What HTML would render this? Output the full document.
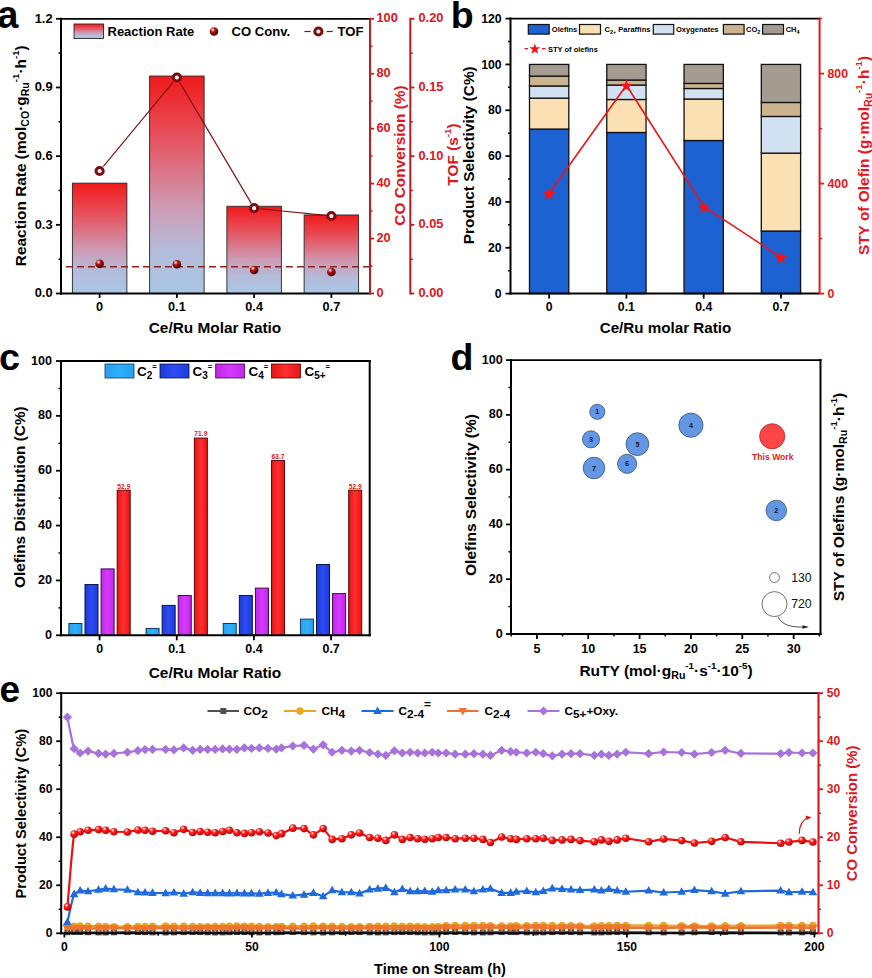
<!DOCTYPE html>
<html lang="en"><head><meta charset="utf-8"><title>Figure</title>
<style>
html,body{margin:0;padding:0;background:#fff;}
svg{display:block;font-family:"Liberation Sans",Arial,Helvetica,sans-serif;}
</style></head><body>
<svg width="872" height="978" viewBox="0 0 872 978">
<rect x="0" y="0" width="872" height="978" fill="#fff"/>
<defs>
<linearGradient id="gA" x1="0" y1="0" x2="0" y2="1"><stop offset="0" stop-color="#F01A1A"/><stop offset="0.25" stop-color="#E84A55"/><stop offset="0.6" stop-color="#CE9AB2"/><stop offset="0.8" stop-color="#B4BCDA"/><stop offset="1" stop-color="#A9C6E4"/></linearGradient>
<radialGradient id="ball" cx="0.36" cy="0.3" r="0.72"><stop offset="0" stop-color="#FFFFFF"/><stop offset="0.16" stop-color="#F09088"/><stop offset="0.36" stop-color="#B41616"/><stop offset="0.72" stop-color="#780505"/><stop offset="1" stop-color="#2C0000"/></radialGradient>
<radialGradient id="rball" cx="0.36" cy="0.3" r="0.74"><stop offset="0" stop-color="#FFFFFF"/><stop offset="0.14" stop-color="#FFA8A0"/><stop offset="0.34" stop-color="#F92222"/><stop offset="0.75" stop-color="#E00A0A"/><stop offset="1" stop-color="#9A0000"/></radialGradient>
<linearGradient id="gC2" x1="0" y1="0" x2="1" y2="0"><stop offset="0" stop-color="#27A0F0"/><stop offset="0.5" stop-color="#30B0FA"/><stop offset="1" stop-color="#27A0F0"/></linearGradient>
<linearGradient id="gC3" x1="0" y1="0" x2="1" y2="0"><stop offset="0" stop-color="#1E3AD8"/><stop offset="0.5" stop-color="#2C4CF4"/><stop offset="1" stop-color="#1E3AD8"/></linearGradient>
<linearGradient id="gC4" x1="0" y1="0" x2="1" y2="0"><stop offset="0" stop-color="#C028E8"/><stop offset="0.5" stop-color="#D838FF"/><stop offset="1" stop-color="#C028E8"/></linearGradient>
<linearGradient id="gC5" x1="0" y1="0" x2="1" y2="0"><stop offset="0" stop-color="#E81414"/><stop offset="0.5" stop-color="#FF3030"/><stop offset="1" stop-color="#E81414"/></linearGradient>
</defs>
<text x="-2.8" y="27.6" font-size="38" fill="#000" text-anchor="start" font-weight="bold" >a</text>
<rect x="72.38" y="183.16" width="54.5" height="110.34" fill="url(#gA)" stroke="#262626" stroke-width="0.9"/>
<rect x="149.62" y="76.03" width="54.5" height="217.47" fill="url(#gA)" stroke="#262626" stroke-width="0.9"/>
<rect x="226.88" y="206.28" width="54.5" height="87.22" fill="url(#gA)" stroke="#262626" stroke-width="0.9"/>
<rect x="304.12" y="214.98" width="54.5" height="78.52" fill="url(#gA)" stroke="#262626" stroke-width="0.9"/>
<line x1="66" y1="266.7" x2="370" y2="266.7" stroke="#8A2222" stroke-width="1.5" stroke-dasharray="7 4"/>
<line x1="103.19" y1="166.68" x2="173.31" y2="81.82" stroke="#8A1212" stroke-width="1.2" />
<line x1="179.72" y1="82.32" x2="251.28" y2="203.38" stroke="#8A1212" stroke-width="1.2" />
<line x1="259.7" y1="208.76" x2="325.8" y2="215.44" stroke="#8A1212" stroke-width="1.2" />
<circle cx="99.62" cy="171" r="3.6" fill="#fff" stroke="#7E0C0C" stroke-width="3"/>
<circle cx="176.88" cy="77.5" r="3.6" fill="#fff" stroke="#7E0C0C" stroke-width="3"/>
<circle cx="254.12" cy="208.2" r="3.6" fill="#fff" stroke="#7E0C0C" stroke-width="3"/>
<circle cx="331.38" cy="216" r="3.6" fill="#fff" stroke="#7E0C0C" stroke-width="3"/>
<circle cx="99.62" cy="263.8" r="4.3" fill="url(#ball)"/>
<circle cx="176.88" cy="264.3" r="4.3" fill="url(#ball)"/>
<circle cx="254.12" cy="270" r="4.3" fill="url(#ball)"/>
<circle cx="331.38" cy="272" r="4.3" fill="url(#ball)"/>
<line x1="61" y1="17.8" x2="61" y2="294.5" stroke="#000" stroke-width="2" />
<line x1="60" y1="293.5" x2="370" y2="293.5" stroke="#000" stroke-width="2" />
<line x1="60" y1="18.8" x2="370" y2="18.8" stroke="#000" stroke-width="1.8" />
<line x1="56" y1="293.5" x2="61" y2="293.5" stroke="#000" stroke-width="1.8" />
<text x="52.6" y="297.3" font-size="12.9" fill="#000" text-anchor="end" font-weight="bold" >0.0</text>
<line x1="58.5" y1="259.16" x2="61" y2="259.16" stroke="#000" stroke-width="1.5" />
<line x1="56" y1="224.82" x2="61" y2="224.82" stroke="#000" stroke-width="1.8" />
<text x="52.6" y="228.62" font-size="12.9" fill="#000" text-anchor="end" font-weight="bold" >0.3</text>
<line x1="58.5" y1="190.49" x2="61" y2="190.49" stroke="#000" stroke-width="1.5" />
<line x1="56" y1="156.15" x2="61" y2="156.15" stroke="#000" stroke-width="1.8" />
<text x="52.6" y="159.95" font-size="12.9" fill="#000" text-anchor="end" font-weight="bold" >0.6</text>
<line x1="58.5" y1="121.81" x2="61" y2="121.81" stroke="#000" stroke-width="1.5" />
<line x1="56" y1="87.48" x2="61" y2="87.48" stroke="#000" stroke-width="1.8" />
<text x="52.6" y="91.28" font-size="12.9" fill="#000" text-anchor="end" font-weight="bold" >0.9</text>
<line x1="58.5" y1="53.14" x2="61" y2="53.14" stroke="#000" stroke-width="1.5" />
<line x1="56" y1="18.8" x2="61" y2="18.8" stroke="#000" stroke-width="1.8" />
<text x="52.6" y="22.6" font-size="12.9" fill="#000" text-anchor="end" font-weight="bold" >1.2</text>
<line x1="99.62" y1="293.5" x2="99.62" y2="298" stroke="#000" stroke-width="1.8" />
<text x="99.62" y="310.7" font-size="12.7" fill="#000" text-anchor="middle" font-weight="bold" >0</text>
<line x1="176.88" y1="293.5" x2="176.88" y2="298" stroke="#000" stroke-width="1.8" />
<text x="176.88" y="310.7" font-size="12.7" fill="#000" text-anchor="middle" font-weight="bold" >0.1</text>
<line x1="254.12" y1="293.5" x2="254.12" y2="298" stroke="#000" stroke-width="1.8" />
<text x="254.12" y="310.7" font-size="12.7" fill="#000" text-anchor="middle" font-weight="bold" >0.4</text>
<line x1="331.38" y1="293.5" x2="331.38" y2="298" stroke="#000" stroke-width="1.8" />
<text x="331.38" y="310.7" font-size="12.7" fill="#000" text-anchor="middle" font-weight="bold" >0.7</text>
<text x="215" y="333" font-size="15.4" fill="#000" text-anchor="middle" font-weight="bold" >Ce/Ru Molar Ratio</text>
<text x="26" y="155.7" font-size="15.4" fill="#000" text-anchor="middle" font-weight="bold" transform="rotate(-90 26 155.7)" >Reaction Rate (mol<tspan font-size="10.6" dy="3.4">CO</tspan><tspan font-size="1" dy="-3.4">​</tspan>·g<tspan font-size="10.6" dy="3.4">Ru</tspan><tspan font-size="1" dy="-3.4">​</tspan><tspan font-size="9.7" dy="-7">-1</tspan><tspan font-size="1" dy="7">​</tspan>·h<tspan font-size="9.7" dy="-7">-1</tspan><tspan font-size="1" dy="7">​</tspan>)</text>
<line x1="370" y1="17.8" x2="370" y2="294.5" stroke="#C4191F" stroke-width="2" />
<line x1="370" y1="293.5" x2="374" y2="293.5" stroke="#C4191F" stroke-width="1.8" />
<text x="376.5" y="297" font-size="12.8" fill="#DE1620" text-anchor="start" font-weight="bold" >0</text>
<line x1="370" y1="266.03" x2="372.5" y2="266.03" stroke="#C4191F" stroke-width="1.5" />
<line x1="370" y1="238.56" x2="374" y2="238.56" stroke="#C4191F" stroke-width="1.8" />
<text x="376.5" y="242.06" font-size="12.8" fill="#DE1620" text-anchor="start" font-weight="bold" >20</text>
<line x1="370" y1="211.09" x2="372.5" y2="211.09" stroke="#C4191F" stroke-width="1.5" />
<line x1="370" y1="183.62" x2="374" y2="183.62" stroke="#C4191F" stroke-width="1.8" />
<text x="376.5" y="187.12" font-size="12.8" fill="#DE1620" text-anchor="start" font-weight="bold" >40</text>
<line x1="370" y1="156.15" x2="372.5" y2="156.15" stroke="#C4191F" stroke-width="1.5" />
<line x1="370" y1="128.68" x2="374" y2="128.68" stroke="#C4191F" stroke-width="1.8" />
<text x="376.5" y="132.18" font-size="12.8" fill="#DE1620" text-anchor="start" font-weight="bold" >60</text>
<line x1="370" y1="101.21" x2="372.5" y2="101.21" stroke="#C4191F" stroke-width="1.5" />
<line x1="370" y1="73.74" x2="374" y2="73.74" stroke="#C4191F" stroke-width="1.8" />
<text x="376.5" y="77.24" font-size="12.8" fill="#DE1620" text-anchor="start" font-weight="bold" >80</text>
<line x1="370" y1="46.27" x2="372.5" y2="46.27" stroke="#C4191F" stroke-width="1.5" />
<line x1="370" y1="18.8" x2="374" y2="18.8" stroke="#C4191F" stroke-width="1.8" />
<text x="376.5" y="22.3" font-size="12.8" fill="#DE1620" text-anchor="start" font-weight="bold" >100</text>
<text x="404.5" y="155.5" font-size="15.4" fill="#DE1620" text-anchor="middle" font-weight="bold" transform="rotate(-90 404.5 155.5)" >CO Conversion (%)</text>
<line x1="410.3" y1="17.8" x2="410.3" y2="294.5" stroke="#C4191F" stroke-width="2" />
<line x1="410.3" y1="293.5" x2="414.3" y2="293.5" stroke="#C4191F" stroke-width="1.8" />
<text x="418.5" y="297" font-size="12.8" fill="#DE1620" text-anchor="start" font-weight="bold" >0.00</text>
<line x1="410.3" y1="259.16" x2="412.8" y2="259.16" stroke="#C4191F" stroke-width="1.5" />
<line x1="410.3" y1="224.82" x2="414.3" y2="224.82" stroke="#C4191F" stroke-width="1.8" />
<text x="418.5" y="228.32" font-size="12.8" fill="#DE1620" text-anchor="start" font-weight="bold" >0.05</text>
<line x1="410.3" y1="190.49" x2="412.8" y2="190.49" stroke="#C4191F" stroke-width="1.5" />
<line x1="410.3" y1="156.15" x2="414.3" y2="156.15" stroke="#C4191F" stroke-width="1.8" />
<text x="418.5" y="159.65" font-size="12.8" fill="#DE1620" text-anchor="start" font-weight="bold" >0.10</text>
<line x1="410.3" y1="121.81" x2="412.8" y2="121.81" stroke="#C4191F" stroke-width="1.5" />
<line x1="410.3" y1="87.48" x2="414.3" y2="87.48" stroke="#C4191F" stroke-width="1.8" />
<text x="418.5" y="90.98" font-size="12.8" fill="#DE1620" text-anchor="start" font-weight="bold" >0.15</text>
<line x1="410.3" y1="53.14" x2="412.8" y2="53.14" stroke="#C4191F" stroke-width="1.5" />
<line x1="410.3" y1="18.8" x2="414.3" y2="18.8" stroke="#C4191F" stroke-width="1.8" />
<text x="418.5" y="22.3" font-size="12.8" fill="#DE1620" text-anchor="start" font-weight="bold" >0.20</text>
<text x="458" y="154.5" font-size="15.4" fill="#DE1620" text-anchor="middle" font-weight="bold" transform="rotate(-90 458 154.5)" >TOF (s<tspan font-size="9.7" dy="-7">-1</tspan><tspan font-size="1" dy="7">​</tspan>)</text>
<rect x="74" y="24" width="29.5" height="14.5" fill="url(#gA)" stroke="#262626" stroke-width="0.9"/>
<text x="107.5" y="36" font-size="13" fill="#000" text-anchor="start" font-weight="bold" >Reaction Rate</text>
<circle cx="214" cy="31.5" r="4.3" fill="url(#ball)"/>
<text x="231.5" y="36" font-size="13.1" fill="#000" text-anchor="start" font-weight="bold" >CO Conv.</text>
<line x1="304.4" y1="31.5" x2="310.6" y2="31.5" stroke="#8A1212" stroke-width="1.2" />
<line x1="326.6" y1="31.5" x2="332.8" y2="31.5" stroke="#8A1212" stroke-width="1.2" />
<circle cx="318.4" cy="31.5" r="3.6" fill="#fff" stroke="#7E0C0C" stroke-width="3"/>
<text x="337.5" y="36" font-size="13.1" fill="#000" text-anchor="start" font-weight="bold" >TOF</text>
<text x="450.8" y="27.6" font-size="37.5" fill="#000" text-anchor="start" font-weight="bold" >b</text>
<rect x="529.49" y="129.06" width="39.3" height="164.54" fill="#1C62D2" stroke="#111" stroke-width="1.3"/>
<rect x="529.49" y="98.12" width="39.3" height="30.94" fill="#FAE0B2" stroke="#111" stroke-width="1.3"/>
<rect x="529.49" y="85.98" width="39.3" height="12.15" fill="#D2E1F2" stroke="#111" stroke-width="1.3"/>
<rect x="529.49" y="76.12" width="39.3" height="9.85" fill="#CBB38E" stroke="#111" stroke-width="1.3"/>
<rect x="529.49" y="64.43" width="39.3" height="11.69" fill="#A59C91" stroke="#111" stroke-width="1.3"/>
<rect x="606.76" y="132.5" width="39.3" height="161.1" fill="#1C62D2" stroke="#111" stroke-width="1.3"/>
<rect x="606.76" y="99.5" width="39.3" height="33" fill="#FAE0B2" stroke="#111" stroke-width="1.3"/>
<rect x="606.76" y="85.06" width="39.3" height="14.44" fill="#D2E1F2" stroke="#111" stroke-width="1.3"/>
<rect x="606.76" y="80.02" width="39.3" height="5.04" fill="#CBB38E" stroke="#111" stroke-width="1.3"/>
<rect x="606.76" y="64.43" width="39.3" height="15.58" fill="#A59C91" stroke="#111" stroke-width="1.3"/>
<rect x="684.04" y="140.52" width="39.3" height="153.08" fill="#1C62D2" stroke="#111" stroke-width="1.3"/>
<rect x="684.04" y="99.04" width="39.3" height="41.48" fill="#FAE0B2" stroke="#111" stroke-width="1.3"/>
<rect x="684.04" y="88.5" width="39.3" height="10.54" fill="#D2E1F2" stroke="#111" stroke-width="1.3"/>
<rect x="684.04" y="83.45" width="39.3" height="5.04" fill="#CBB38E" stroke="#111" stroke-width="1.3"/>
<rect x="684.04" y="64.43" width="39.3" height="19.02" fill="#A59C91" stroke="#111" stroke-width="1.3"/>
<rect x="761.31" y="231.04" width="39.3" height="62.56" fill="#1C62D2" stroke="#111" stroke-width="1.3"/>
<rect x="761.31" y="153.12" width="39.3" height="77.92" fill="#FAE0B2" stroke="#111" stroke-width="1.3"/>
<rect x="761.31" y="116.45" width="39.3" height="36.67" fill="#D2E1F2" stroke="#111" stroke-width="1.3"/>
<rect x="761.31" y="102.48" width="39.3" height="13.98" fill="#CBB38E" stroke="#111" stroke-width="1.3"/>
<rect x="761.31" y="64.43" width="39.3" height="38.04" fill="#A59C91" stroke="#111" stroke-width="1.3"/>
<polyline points="549.14,193.5 626.41,85.3 703.69,206.5 780.96,257.3" fill="none" stroke="#EC1418" stroke-width="1.6"/>
<polygon points="549.14,187.4 550.76,192.07 555.7,192.17 551.76,195.15 553.19,199.88 549.14,197.06 545.08,199.88 546.51,195.15 542.58,192.17 547.52,192.07" fill="#F51216"/>
<polygon points="626.41,79.2 628.03,83.87 632.97,83.97 629.04,86.95 630.47,91.68 626.41,88.86 622.36,91.68 623.79,86.95 619.85,83.97 624.79,83.87" fill="#F51216"/>
<polygon points="703.69,200.4 705.31,205.07 710.25,205.17 706.31,208.15 707.74,212.88 703.69,210.06 699.63,212.88 701.06,208.15 697.13,205.17 702.07,205.07" fill="#F51216"/>
<polygon points="780.96,251.2 782.58,255.87 787.52,255.97 783.59,258.95 785.02,263.68 780.96,260.86 776.91,263.68 778.34,258.95 774.4,255.97 779.34,255.87" fill="#F51216"/>
<line x1="510.5" y1="17.6" x2="510.5" y2="294.6" stroke="#000" stroke-width="2" />
<line x1="509.5" y1="293.6" x2="819.6" y2="293.6" stroke="#000" stroke-width="2" />
<line x1="509.5" y1="18.6" x2="819.6" y2="18.6" stroke="#000" stroke-width="1.8" />
<line x1="505.5" y1="293.6" x2="510.5" y2="293.6" stroke="#000" stroke-width="1.8" />
<text x="501.7" y="297.7" font-size="12.3" fill="#000" text-anchor="end" font-weight="bold" >0</text>
<line x1="508" y1="270.68" x2="510.5" y2="270.68" stroke="#000" stroke-width="1.5" />
<line x1="505.5" y1="247.77" x2="510.5" y2="247.77" stroke="#000" stroke-width="1.8" />
<text x="501.7" y="251.87" font-size="12.3" fill="#000" text-anchor="end" font-weight="bold" >20</text>
<line x1="508" y1="224.85" x2="510.5" y2="224.85" stroke="#000" stroke-width="1.5" />
<line x1="505.5" y1="201.93" x2="510.5" y2="201.93" stroke="#000" stroke-width="1.8" />
<text x="501.7" y="206.03" font-size="12.3" fill="#000" text-anchor="end" font-weight="bold" >40</text>
<line x1="508" y1="179.02" x2="510.5" y2="179.02" stroke="#000" stroke-width="1.5" />
<line x1="505.5" y1="156.1" x2="510.5" y2="156.1" stroke="#000" stroke-width="1.8" />
<text x="501.7" y="160.2" font-size="12.3" fill="#000" text-anchor="end" font-weight="bold" >60</text>
<line x1="508" y1="133.18" x2="510.5" y2="133.18" stroke="#000" stroke-width="1.5" />
<line x1="505.5" y1="110.27" x2="510.5" y2="110.27" stroke="#000" stroke-width="1.8" />
<text x="501.7" y="114.37" font-size="12.3" fill="#000" text-anchor="end" font-weight="bold" >80</text>
<line x1="508" y1="87.35" x2="510.5" y2="87.35" stroke="#000" stroke-width="1.5" />
<line x1="505.5" y1="64.43" x2="510.5" y2="64.43" stroke="#000" stroke-width="1.8" />
<text x="501.7" y="68.53" font-size="12.3" fill="#000" text-anchor="end" font-weight="bold" >100</text>
<line x1="508" y1="41.52" x2="510.5" y2="41.52" stroke="#000" stroke-width="1.5" />
<line x1="505.5" y1="18.6" x2="510.5" y2="18.6" stroke="#000" stroke-width="1.8" />
<text x="501.7" y="22.7" font-size="12.3" fill="#000" text-anchor="end" font-weight="bold" >120</text>
<line x1="549.14" y1="293.6" x2="549.14" y2="298.6" stroke="#000" stroke-width="1.8" />
<text x="549.14" y="310.9" font-size="12.3" fill="#000" text-anchor="middle" font-weight="bold" >0</text>
<line x1="626.41" y1="293.6" x2="626.41" y2="298.6" stroke="#000" stroke-width="1.8" />
<text x="626.41" y="310.9" font-size="12.3" fill="#000" text-anchor="middle" font-weight="bold" >0.1</text>
<line x1="703.69" y1="293.6" x2="703.69" y2="298.6" stroke="#000" stroke-width="1.8" />
<text x="703.69" y="310.9" font-size="12.3" fill="#000" text-anchor="middle" font-weight="bold" >0.4</text>
<line x1="780.96" y1="293.6" x2="780.96" y2="298.6" stroke="#000" stroke-width="1.8" />
<text x="780.96" y="310.9" font-size="12.3" fill="#000" text-anchor="middle" font-weight="bold" >0.7</text>
<text x="665.5" y="333" font-size="15.2" fill="#000" text-anchor="middle" font-weight="bold" >Ce/Ru molar Ratio</text>
<text x="474" y="155.2" font-size="15.4" fill="#000" text-anchor="middle" font-weight="bold" transform="rotate(-90 474 155.2)" >Product Selectivity (C%)</text>
<line x1="819.6" y1="17.6" x2="819.6" y2="294.6" stroke="#E8161C" stroke-width="2" />
<line x1="819.6" y1="293.6" x2="824.1" y2="293.6" stroke="#E8161C" stroke-width="1.8" />
<text x="827.5" y="297.6" font-size="12.3" fill="#E8161C" text-anchor="start" font-weight="bold" >0</text>
<line x1="819.6" y1="238.6" x2="822.1" y2="238.6" stroke="#E8161C" stroke-width="1.5" />
<line x1="819.6" y1="183.6" x2="824.1" y2="183.6" stroke="#E8161C" stroke-width="1.8" />
<text x="827.5" y="187.6" font-size="12.3" fill="#E8161C" text-anchor="start" font-weight="bold" >400</text>
<line x1="819.6" y1="128.6" x2="822.1" y2="128.6" stroke="#E8161C" stroke-width="1.5" />
<line x1="819.6" y1="73.6" x2="824.1" y2="73.6" stroke="#E8161C" stroke-width="1.8" />
<text x="827.5" y="77.6" font-size="12.3" fill="#E8161C" text-anchor="start" font-weight="bold" >800</text>
<line x1="819.6" y1="18.6" x2="822.1" y2="18.6" stroke="#E8161C" stroke-width="1.5" />
<text x="868.5" y="155.5" font-size="15.45" fill="#E8161C" text-anchor="middle" font-weight="bold" transform="rotate(-90 868.5 155.5)" >STY of Olefin (g·mol<tspan font-size="10.6" dy="3.4">Ru</tspan><tspan font-size="1" dy="-3.4">​</tspan><tspan font-size="9.7" dy="-7">-1</tspan><tspan font-size="1" dy="7">​</tspan>·h<tspan font-size="9.7" dy="-7">-1</tspan><tspan font-size="1" dy="7">​</tspan>)</text>
<rect x="528.3" y="24.5" width="20.9" height="9.6" fill="#1C62D2" stroke="#111" stroke-width="1.2"/>
<text x="551.8" y="32" font-size="7.5" fill="#000" text-anchor="start" font-weight="bold" >Olefins</text>
<rect x="579.5" y="24.5" width="21" height="9.6" fill="#FAE0B2" stroke="#111" stroke-width="1.2"/>
<text x="604.5" y="32" font-size="7.5" fill="#000" text-anchor="start" font-weight="bold" >C<tspan font-size="5.5" dy="2">2+</tspan><tspan font-size="1" dy="-2">​</tspan> Paraffins</text>
<rect x="653.3" y="24.5" width="20.4" height="9.6" fill="#D2E1F2" stroke="#111" stroke-width="1.2"/>
<text x="676" y="32" font-size="7.5" fill="#000" text-anchor="start" font-weight="bold" >Oxygenates</text>
<rect x="723.4" y="24.5" width="20.7" height="9.6" fill="#CBB38E" stroke="#111" stroke-width="1.2"/>
<text x="746.1" y="32" font-size="7.5" fill="#000" text-anchor="start" font-weight="bold" >CO<tspan font-size="5.5" dy="2">2</tspan><tspan font-size="1" dy="-2">​</tspan></text>
<rect x="762.6" y="24.5" width="20.9" height="9.6" fill="#A59C91" stroke="#111" stroke-width="1.2"/>
<text x="785.7" y="32" font-size="7.5" fill="#000" text-anchor="start" font-weight="bold" >CH<tspan font-size="5.5" dy="2">4</tspan><tspan font-size="1" dy="-2">​</tspan></text>
<line x1="524.5" y1="48.7" x2="545.5" y2="48.7" stroke="#F01418" stroke-width="1.3" stroke-dasharray="3.5 14 3.5"/>
<polygon points="534.8,43.4 536.14,47.26 540.22,47.34 536.97,49.8 538.15,53.71 534.8,51.38 531.45,53.71 532.63,49.8 529.38,47.34 533.46,47.26" fill="#F51216"/>
<text x="548" y="51.5" font-size="7.5" fill="#000" text-anchor="start" font-weight="bold" >STY of olefins</text>
<text x="-1" y="370" font-size="37.8" fill="#000" text-anchor="start" font-weight="bold" >c</text>
<rect x="68.89" y="623.51" width="13" height="11.79" fill="url(#gC2)" stroke="#0E3A5E" stroke-width="1"/>
<rect x="84.99" y="584.55" width="13" height="50.75" fill="url(#gC3)" stroke="#0A1448" stroke-width="1"/>
<rect x="101.09" y="568.92" width="13" height="66.38" fill="url(#gC4)" stroke="#3C0A4C" stroke-width="1"/>
<rect x="117.19" y="490.2" width="13" height="145.1" fill="url(#gC5)" stroke="#560606" stroke-width="1"/>
<text x="123.69" y="488.6" font-size="6.7" fill="#E01818" text-anchor="middle" font-weight="bold" >52.9</text>
<rect x="146.06" y="628.44" width="13" height="6.86" fill="url(#gC2)" stroke="#0E3A5E" stroke-width="1"/>
<rect x="162.16" y="605.4" width="13" height="29.9" fill="url(#gC3)" stroke="#0A1448" stroke-width="1"/>
<rect x="178.26" y="595.53" width="13" height="39.77" fill="url(#gC4)" stroke="#3C0A4C" stroke-width="1"/>
<rect x="194.36" y="438.08" width="13" height="197.22" fill="url(#gC5)" stroke="#560606" stroke-width="1"/>
<text x="200.86" y="436.48" font-size="6.7" fill="#E01818" text-anchor="middle" font-weight="bold" >71.9</text>
<rect x="223.24" y="623.51" width="13" height="11.79" fill="url(#gC2)" stroke="#0E3A5E" stroke-width="1"/>
<rect x="239.34" y="595.53" width="13" height="39.77" fill="url(#gC3)" stroke="#0A1448" stroke-width="1"/>
<rect x="255.44" y="588.12" width="13" height="47.18" fill="url(#gC4)" stroke="#3C0A4C" stroke-width="1"/>
<rect x="271.54" y="460.57" width="13" height="174.73" fill="url(#gC5)" stroke="#560606" stroke-width="1"/>
<text x="278.04" y="458.97" font-size="6.7" fill="#E01818" text-anchor="middle" font-weight="bold" >63.7</text>
<rect x="300.41" y="619.12" width="13" height="16.18" fill="url(#gC2)" stroke="#0E3A5E" stroke-width="1"/>
<rect x="316.51" y="564.53" width="13" height="70.77" fill="url(#gC3)" stroke="#0A1448" stroke-width="1"/>
<rect x="332.61" y="593.61" width="13" height="41.69" fill="url(#gC4)" stroke="#3C0A4C" stroke-width="1"/>
<rect x="348.71" y="490.2" width="13" height="145.1" fill="url(#gC5)" stroke="#560606" stroke-width="1"/>
<text x="355.21" y="488.6" font-size="6.7" fill="#E01818" text-anchor="middle" font-weight="bold" >52.9</text>
<line x1="61" y1="360" x2="61" y2="636.3" stroke="#000" stroke-width="2" />
<line x1="60" y1="635.3" x2="370.7" y2="635.3" stroke="#000" stroke-width="2" />
<line x1="60" y1="361" x2="370.7" y2="361" stroke="#000" stroke-width="1.8" />
<line x1="369.7" y1="360" x2="369.7" y2="636.3" stroke="#000" stroke-width="2" />
<line x1="56" y1="635.3" x2="61" y2="635.3" stroke="#000" stroke-width="1.8" />
<text x="52" y="638.9" font-size="12.6" fill="#000" text-anchor="end" font-weight="bold" >0</text>
<line x1="58.5" y1="607.87" x2="61" y2="607.87" stroke="#000" stroke-width="1.5" />
<line x1="56" y1="580.44" x2="61" y2="580.44" stroke="#000" stroke-width="1.8" />
<text x="52" y="584.04" font-size="12.6" fill="#000" text-anchor="end" font-weight="bold" >20</text>
<line x1="58.5" y1="553.01" x2="61" y2="553.01" stroke="#000" stroke-width="1.5" />
<line x1="56" y1="525.58" x2="61" y2="525.58" stroke="#000" stroke-width="1.8" />
<text x="52" y="529.18" font-size="12.6" fill="#000" text-anchor="end" font-weight="bold" >40</text>
<line x1="58.5" y1="498.15" x2="61" y2="498.15" stroke="#000" stroke-width="1.5" />
<line x1="56" y1="470.72" x2="61" y2="470.72" stroke="#000" stroke-width="1.8" />
<text x="52" y="474.32" font-size="12.6" fill="#000" text-anchor="end" font-weight="bold" >60</text>
<line x1="58.5" y1="443.29" x2="61" y2="443.29" stroke="#000" stroke-width="1.5" />
<line x1="56" y1="415.86" x2="61" y2="415.86" stroke="#000" stroke-width="1.8" />
<text x="52" y="419.46" font-size="12.6" fill="#000" text-anchor="end" font-weight="bold" >80</text>
<line x1="58.5" y1="388.43" x2="61" y2="388.43" stroke="#000" stroke-width="1.5" />
<line x1="56" y1="361" x2="61" y2="361" stroke="#000" stroke-width="1.8" />
<text x="52" y="364.6" font-size="12.6" fill="#000" text-anchor="end" font-weight="bold" >100</text>
<line x1="99.59" y1="635.3" x2="99.59" y2="640.3" stroke="#000" stroke-width="1.8" />
<text x="99.59" y="653.1" font-size="12.4" fill="#000" text-anchor="middle" font-weight="bold" >0</text>
<line x1="176.76" y1="635.3" x2="176.76" y2="640.3" stroke="#000" stroke-width="1.8" />
<text x="176.76" y="653.1" font-size="12.4" fill="#000" text-anchor="middle" font-weight="bold" >0.1</text>
<line x1="253.94" y1="635.3" x2="253.94" y2="640.3" stroke="#000" stroke-width="1.8" />
<text x="253.94" y="653.1" font-size="12.4" fill="#000" text-anchor="middle" font-weight="bold" >0.4</text>
<line x1="331.11" y1="635.3" x2="331.11" y2="640.3" stroke="#000" stroke-width="1.8" />
<text x="331.11" y="653.1" font-size="12.4" fill="#000" text-anchor="middle" font-weight="bold" >0.7</text>
<text x="215" y="677.5" font-size="15.4" fill="#000" text-anchor="middle" font-weight="bold" >Ce/Ru Molar Ratio</text>
<text x="25.5" y="497.1" font-size="15.35" fill="#000" text-anchor="middle" font-weight="bold" transform="rotate(-90 25.5 497.1)" >Olefins Distribution (C%)</text>
<rect x="105" y="364" width="29" height="14" fill="url(#gC2)" stroke="#0E3A5E" stroke-width="0.8"/>
<text x="137" y="375.7" font-size="13.4" fill="#000" text-anchor="start" font-weight="bold" >C<tspan font-size="10" dy="3">2</tspan><tspan font-size="1" dy="-3">​</tspan><tspan font-size="7.5" dy="-7">=</tspan><tspan font-size="1" dy="7">​</tspan></text>
<rect x="160" y="364" width="29" height="14" fill="url(#gC3)" stroke="#0A1448" stroke-width="0.8"/>
<text x="192.5" y="375.7" font-size="13.4" fill="#000" text-anchor="start" font-weight="bold" >C<tspan font-size="10" dy="3">3</tspan><tspan font-size="1" dy="-3">​</tspan><tspan font-size="7.5" dy="-7">=</tspan><tspan font-size="1" dy="7">​</tspan></text>
<rect x="215.7" y="364" width="29" height="14" fill="url(#gC4)" stroke="#3C0A4C" stroke-width="0.8"/>
<text x="248.5" y="375.7" font-size="13.4" fill="#000" text-anchor="start" font-weight="bold" >C<tspan font-size="10" dy="3">4</tspan><tspan font-size="1" dy="-3">​</tspan><tspan font-size="7.5" dy="-7">=</tspan><tspan font-size="1" dy="7">​</tspan></text>
<rect x="271.5" y="364" width="29" height="14" fill="url(#gC5)" stroke="#560606" stroke-width="0.8"/>
<text x="304.5" y="375.7" font-size="13.4" fill="#000" text-anchor="start" font-weight="bold" >C<tspan font-size="10" dy="3">5+</tspan><tspan font-size="1" dy="-3">​</tspan><tspan font-size="7.5" dy="-7">=</tspan><tspan font-size="1" dy="7">​</tspan></text>
<text x="450.5" y="370.3" font-size="37.5" fill="#000" text-anchor="start" font-weight="bold" >d</text>
<circle cx="597.3" cy="411.8" r="7.6" fill="#6397E3" stroke="#2C4470" stroke-width="0.7"/>
<text x="597.3" y="414.4" font-size="7.2" fill="#0C1630" text-anchor="middle" font-weight="bold" >1</text>
<circle cx="591" cy="439.3" r="8.6" fill="#6397E3" stroke="#2C4470" stroke-width="0.7"/>
<text x="591" y="441.9" font-size="7.2" fill="#0C1630" text-anchor="middle" font-weight="bold" >3</text>
<circle cx="594" cy="468" r="10.8" fill="#6397E3" stroke="#2C4470" stroke-width="0.7"/>
<text x="594" y="470.6" font-size="7.2" fill="#0C1630" text-anchor="middle" font-weight="bold" >7</text>
<circle cx="627.1" cy="463.8" r="9.6" fill="#6397E3" stroke="#2C4470" stroke-width="0.7"/>
<text x="627.1" y="466.4" font-size="7.2" fill="#0C1630" text-anchor="middle" font-weight="bold" >6</text>
<circle cx="637.4" cy="444.1" r="11.4" fill="#6397E3" stroke="#2C4470" stroke-width="0.7"/>
<text x="637.4" y="446.7" font-size="7.2" fill="#0C1630" text-anchor="middle" font-weight="bold" >5</text>
<circle cx="690.9" cy="425.2" r="12.1" fill="#6397E3" stroke="#2C4470" stroke-width="0.7"/>
<text x="690.9" y="427.8" font-size="7.2" fill="#0C1630" text-anchor="middle" font-weight="bold" >4</text>
<circle cx="776.3" cy="510.5" r="10.3" fill="#6397E3" stroke="#2C4470" stroke-width="0.7"/>
<text x="776.3" y="513.1" font-size="7.2" fill="#0C1630" text-anchor="middle" font-weight="bold" >2</text>
<circle cx="772.2" cy="436.3" r="12.6" fill="#FA4646" stroke="#A02020" stroke-width="0.7"/>
<text x="772.8" y="460" font-size="8.6" fill="#E51A1A" text-anchor="middle" font-weight="bold" >This Work</text>
<line x1="511" y1="359.1" x2="511" y2="635" stroke="#000" stroke-width="2" />
<line x1="510" y1="634" x2="821.5" y2="634" stroke="#000" stroke-width="2" />
<line x1="510" y1="360.1" x2="821.5" y2="360.1" stroke="#000" stroke-width="1.8" />
<line x1="820.5" y1="359.1" x2="820.5" y2="635" stroke="#000" stroke-width="2" />
<line x1="506" y1="634" x2="511" y2="634" stroke="#000" stroke-width="1.8" />
<text x="502.7" y="637.6" font-size="12.6" fill="#000" text-anchor="end" font-weight="bold" >0</text>
<line x1="508.5" y1="606.61" x2="511" y2="606.61" stroke="#000" stroke-width="1.5" />
<line x1="506" y1="579.22" x2="511" y2="579.22" stroke="#000" stroke-width="1.8" />
<text x="502.7" y="582.82" font-size="12.6" fill="#000" text-anchor="end" font-weight="bold" >20</text>
<line x1="508.5" y1="551.83" x2="511" y2="551.83" stroke="#000" stroke-width="1.5" />
<line x1="506" y1="524.44" x2="511" y2="524.44" stroke="#000" stroke-width="1.8" />
<text x="502.7" y="528.04" font-size="12.6" fill="#000" text-anchor="end" font-weight="bold" >40</text>
<line x1="508.5" y1="497.05" x2="511" y2="497.05" stroke="#000" stroke-width="1.5" />
<line x1="506" y1="469.66" x2="511" y2="469.66" stroke="#000" stroke-width="1.8" />
<text x="502.7" y="473.26" font-size="12.6" fill="#000" text-anchor="end" font-weight="bold" >60</text>
<line x1="508.5" y1="442.27" x2="511" y2="442.27" stroke="#000" stroke-width="1.5" />
<line x1="506" y1="414.88" x2="511" y2="414.88" stroke="#000" stroke-width="1.8" />
<text x="502.7" y="418.48" font-size="12.6" fill="#000" text-anchor="end" font-weight="bold" >80</text>
<line x1="508.5" y1="387.49" x2="511" y2="387.49" stroke="#000" stroke-width="1.5" />
<line x1="506" y1="360.1" x2="511" y2="360.1" stroke="#000" stroke-width="1.8" />
<text x="502.7" y="363.7" font-size="12.6" fill="#000" text-anchor="end" font-weight="bold" >100</text>
<line x1="536.9" y1="634" x2="536.9" y2="639" stroke="#000" stroke-width="1.8" />
<text x="536.9" y="652.7" font-size="12.5" fill="#000" text-anchor="middle" font-weight="bold" >5</text>
<line x1="588.25" y1="634" x2="588.25" y2="639" stroke="#000" stroke-width="1.8" />
<text x="588.25" y="652.7" font-size="12.5" fill="#000" text-anchor="middle" font-weight="bold" >10</text>
<line x1="639.6" y1="634" x2="639.6" y2="639" stroke="#000" stroke-width="1.8" />
<text x="639.6" y="652.7" font-size="12.5" fill="#000" text-anchor="middle" font-weight="bold" >15</text>
<line x1="690.95" y1="634" x2="690.95" y2="639" stroke="#000" stroke-width="1.8" />
<text x="690.95" y="652.7" font-size="12.5" fill="#000" text-anchor="middle" font-weight="bold" >20</text>
<line x1="742.3" y1="634" x2="742.3" y2="639" stroke="#000" stroke-width="1.8" />
<text x="742.3" y="652.7" font-size="12.5" fill="#000" text-anchor="middle" font-weight="bold" >25</text>
<line x1="793.65" y1="634" x2="793.65" y2="639" stroke="#000" stroke-width="1.8" />
<text x="793.65" y="652.7" font-size="12.5" fill="#000" text-anchor="middle" font-weight="bold" >30</text>
<line x1="511.22" y1="634" x2="511.22" y2="636.5" stroke="#000" stroke-width="1.5" />
<line x1="562.57" y1="634" x2="562.57" y2="636.5" stroke="#000" stroke-width="1.5" />
<line x1="613.92" y1="634" x2="613.92" y2="636.5" stroke="#000" stroke-width="1.5" />
<line x1="665.27" y1="634" x2="665.27" y2="636.5" stroke="#000" stroke-width="1.5" />
<line x1="716.62" y1="634" x2="716.62" y2="636.5" stroke="#000" stroke-width="1.5" />
<line x1="767.97" y1="634" x2="767.97" y2="636.5" stroke="#000" stroke-width="1.5" />
<line x1="819.33" y1="634" x2="819.33" y2="636.5" stroke="#000" stroke-width="1.5" />
<text x="666" y="675.5" font-size="15.5" fill="#000" text-anchor="middle" font-weight="bold" >RuTY (mol·g<tspan font-size="10.6" dy="3.4">Ru</tspan><tspan font-size="1" dy="-3.4">​</tspan><tspan font-size="9.7" dy="-7">-1</tspan><tspan font-size="1" dy="7">​</tspan>·s<tspan font-size="9.7" dy="-7">-1</tspan><tspan font-size="1" dy="7">​</tspan>·10<tspan font-size="9.7" dy="-7">-5</tspan><tspan font-size="1" dy="7">​</tspan>)</text>
<text x="476" y="495" font-size="15.5" fill="#000" text-anchor="middle" font-weight="bold" transform="rotate(-90 476 495)" >Olefins Selectivity (%)</text>
<text x="844" y="497" font-size="15.5" fill="#000" text-anchor="middle" font-weight="bold" transform="rotate(-90 844 497)" >STY of Olefins (g·mol<tspan font-size="10.6" dy="3.4">Ru</tspan><tspan font-size="1" dy="-3.4">​</tspan><tspan font-size="9.7" dy="-7">-1</tspan><tspan font-size="1" dy="7">​</tspan>·h<tspan font-size="9.7" dy="-7">-1</tspan><tspan font-size="1" dy="7">​</tspan>)</text>
<circle cx="774.5" cy="577.5" r="4.9" fill="#fff" stroke="#333" stroke-width="0.7"/>
<circle cx="774.5" cy="604.1" r="12.5" fill="#fff" stroke="#333" stroke-width="0.7"/>
<text x="791.3" y="582" font-size="12.2" fill="#111" text-anchor="start" font-weight="normal" >130</text>
<text x="791.3" y="608.2" font-size="12.2" fill="#111" text-anchor="start" font-weight="normal" >720</text>
<path d="M778.4 617.3 C 781 624, 790 627.5, 803 627" fill="none" stroke="#222" stroke-width="0.8"/>
<polygon points="809,627 802.5,625.2 802.5,628.8" fill="#222"/>
<text x="-0.6" y="701.8" font-size="37" fill="#000" text-anchor="start" font-weight="bold" >e</text>
<path d="M67.4 932.22 L74.15 932.02 L80.15 932 L88.03 932.19 L98.53 932.4 L105.65 932.45 L113.9 932.29 L127.4 932.06 L137.9 931.98 L145.03 932.12 L152.53 932.35 L165.65 932.46 L173.9 932.35 L183.65 932.12 L192.65 931.98 L200.15 932.06 L207.65 932.29 L215.15 932.45 L222.65 932.4 L229.4 932.18 L236.9 932 L244.4 932.02 L251.53 932.22 L259.4 932.42 L268.02 932.44 L276.27 932.25 L281.52 932.04 L292.77 931.99 L304.02 932.15 L313.4 932.38 L323.15 932.46 L332.15 932.32 L341.9 932.09 L351.27 931.98 L359.52 932.09 L369.65 932.32 L377.9 932.46 L385.77 932.37 L394.4 932.15 L402.27 931.99 L410.15 932.04 L417.65 932.26 L424.77 932.44 L432.27 932.42 L438.27 932.22 L446.15 932.02 L455.15 932 L465.27 932.19 L473.9 932.4 L482.9 932.45 L490.4 932.28 L501.65 932.06 L510.65 931.98 L516.27 932.12 L526.77 932.35 L535.77 932.46 L543.27 932.34 L552.27 932.11 L562.02 931.98 L571.02 932.07 L580.02 932.29 L594.27 932.45 L601.4 932.4 L608.9 932.18 L617.15 932 L625.77 932.02 L648.65 932.23 L663.65 932.42 L681.65 932.44 L694.4 932.25 L711.65 932.03 L725.15 931.99 L740.9 932.16 L780.65 932.38 L788.9 932.46 L802.02 932.31 L812.9 932.08" fill="none" stroke="#505050" stroke-width="2" stroke-linejoin="round"/>
<rect x="64.4" y="929.22" width="6" height="6" fill="#505050"/>
<rect x="71.15" y="929.02" width="6" height="6" fill="#505050"/>
<rect x="77.15" y="929" width="6" height="6" fill="#505050"/>
<rect x="85.03" y="929.19" width="6" height="6" fill="#505050"/>
<rect x="95.53" y="929.4" width="6" height="6" fill="#505050"/>
<rect x="102.65" y="929.45" width="6" height="6" fill="#505050"/>
<rect x="110.9" y="929.29" width="6" height="6" fill="#505050"/>
<rect x="124.4" y="929.06" width="6" height="6" fill="#505050"/>
<rect x="134.9" y="928.98" width="6" height="6" fill="#505050"/>
<rect x="142.03" y="929.12" width="6" height="6" fill="#505050"/>
<rect x="149.53" y="929.35" width="6" height="6" fill="#505050"/>
<rect x="162.65" y="929.46" width="6" height="6" fill="#505050"/>
<rect x="170.9" y="929.35" width="6" height="6" fill="#505050"/>
<rect x="180.65" y="929.12" width="6" height="6" fill="#505050"/>
<rect x="189.65" y="928.98" width="6" height="6" fill="#505050"/>
<rect x="197.15" y="929.06" width="6" height="6" fill="#505050"/>
<rect x="204.65" y="929.29" width="6" height="6" fill="#505050"/>
<rect x="212.15" y="929.45" width="6" height="6" fill="#505050"/>
<rect x="219.65" y="929.4" width="6" height="6" fill="#505050"/>
<rect x="226.4" y="929.18" width="6" height="6" fill="#505050"/>
<rect x="233.9" y="929" width="6" height="6" fill="#505050"/>
<rect x="241.4" y="929.02" width="6" height="6" fill="#505050"/>
<rect x="248.53" y="929.22" width="6" height="6" fill="#505050"/>
<rect x="256.4" y="929.42" width="6" height="6" fill="#505050"/>
<rect x="265.02" y="929.44" width="6" height="6" fill="#505050"/>
<rect x="273.27" y="929.25" width="6" height="6" fill="#505050"/>
<rect x="278.52" y="929.04" width="6" height="6" fill="#505050"/>
<rect x="289.77" y="928.99" width="6" height="6" fill="#505050"/>
<rect x="301.02" y="929.15" width="6" height="6" fill="#505050"/>
<rect x="310.4" y="929.38" width="6" height="6" fill="#505050"/>
<rect x="320.15" y="929.46" width="6" height="6" fill="#505050"/>
<rect x="329.15" y="929.32" width="6" height="6" fill="#505050"/>
<rect x="338.9" y="929.09" width="6" height="6" fill="#505050"/>
<rect x="348.27" y="928.98" width="6" height="6" fill="#505050"/>
<rect x="356.52" y="929.09" width="6" height="6" fill="#505050"/>
<rect x="366.65" y="929.32" width="6" height="6" fill="#505050"/>
<rect x="374.9" y="929.46" width="6" height="6" fill="#505050"/>
<rect x="382.77" y="929.37" width="6" height="6" fill="#505050"/>
<rect x="391.4" y="929.15" width="6" height="6" fill="#505050"/>
<rect x="399.27" y="928.99" width="6" height="6" fill="#505050"/>
<rect x="407.15" y="929.04" width="6" height="6" fill="#505050"/>
<rect x="414.65" y="929.26" width="6" height="6" fill="#505050"/>
<rect x="421.77" y="929.44" width="6" height="6" fill="#505050"/>
<rect x="429.27" y="929.42" width="6" height="6" fill="#505050"/>
<rect x="435.27" y="929.22" width="6" height="6" fill="#505050"/>
<rect x="443.15" y="929.02" width="6" height="6" fill="#505050"/>
<rect x="452.15" y="929" width="6" height="6" fill="#505050"/>
<rect x="462.27" y="929.19" width="6" height="6" fill="#505050"/>
<rect x="470.9" y="929.4" width="6" height="6" fill="#505050"/>
<rect x="479.9" y="929.45" width="6" height="6" fill="#505050"/>
<rect x="487.4" y="929.28" width="6" height="6" fill="#505050"/>
<rect x="498.65" y="929.06" width="6" height="6" fill="#505050"/>
<rect x="507.65" y="928.98" width="6" height="6" fill="#505050"/>
<rect x="513.27" y="929.12" width="6" height="6" fill="#505050"/>
<rect x="523.77" y="929.35" width="6" height="6" fill="#505050"/>
<rect x="532.77" y="929.46" width="6" height="6" fill="#505050"/>
<rect x="540.27" y="929.34" width="6" height="6" fill="#505050"/>
<rect x="549.27" y="929.11" width="6" height="6" fill="#505050"/>
<rect x="559.02" y="928.98" width="6" height="6" fill="#505050"/>
<rect x="568.02" y="929.07" width="6" height="6" fill="#505050"/>
<rect x="577.02" y="929.29" width="6" height="6" fill="#505050"/>
<rect x="591.27" y="929.45" width="6" height="6" fill="#505050"/>
<rect x="598.4" y="929.4" width="6" height="6" fill="#505050"/>
<rect x="605.9" y="929.18" width="6" height="6" fill="#505050"/>
<rect x="614.15" y="929" width="6" height="6" fill="#505050"/>
<rect x="622.77" y="929.02" width="6" height="6" fill="#505050"/>
<rect x="645.65" y="929.23" width="6" height="6" fill="#505050"/>
<rect x="660.65" y="929.42" width="6" height="6" fill="#505050"/>
<rect x="678.65" y="929.44" width="6" height="6" fill="#505050"/>
<rect x="691.4" y="929.25" width="6" height="6" fill="#505050"/>
<rect x="708.65" y="929.03" width="6" height="6" fill="#505050"/>
<rect x="722.15" y="928.99" width="6" height="6" fill="#505050"/>
<rect x="737.9" y="929.16" width="6" height="6" fill="#505050"/>
<rect x="777.65" y="929.38" width="6" height="6" fill="#505050"/>
<rect x="785.9" y="929.46" width="6" height="6" fill="#505050"/>
<rect x="799.02" y="929.31" width="6" height="6" fill="#505050"/>
<rect x="809.9" y="929.08" width="6" height="6" fill="#505050"/>
<path d="M67.4 926.34 L74.15 926.15 L80.15 926.05 L88.03 926.09 L98.53 926.24 L105.65 926.44 L113.9 926.59 L127.4 926.62 L137.9 926.52 L145.03 926.33 L152.53 926.15 L165.65 926.05 L173.9 926.09 L183.65 926.25 L192.65 926.44 L200.15 926.59 L207.65 926.62 L215.15 926.52 L222.65 926.33 L229.4 926.14 L236.9 926.05 L244.4 926.09 L251.53 926.25 L259.4 926.45 L268.02 926.59 L276.27 926.62 L281.52 926.51 L292.77 926.32 L304.02 926.14 L313.4 926.05 L323.15 926.1 L332.15 926.25 L341.9 926.45 L351.27 926.6 L359.52 926.62 L369.65 926.51 L377.9 926.32 L385.77 926.14 L394.4 926.05 L402.27 926.1 L410.15 926.26 L417.65 926.46 L424.77 926.6 L432.27 926.62 L438.27 926.5 L446.15 925.59 L455.15 925.41 L465.27 925.33 L473.9 925.38 L482.9 925.54 L490.4 925.74 L501.65 925.88 L510.65 925.89 L516.27 925.78 L526.77 925.59 L535.77 925.41 L543.27 925.33 L552.27 925.38 L562.02 925.55 L571.02 925.74 L580.02 925.88 L594.27 925.89 L601.4 925.78 L608.9 925.58 L617.15 925.41 L625.77 925.33 L648.65 925.39 L663.65 925.55 L681.65 925.75 L694.4 925.88 L711.65 925.89 L725.15 925.77 L740.9 925.58 L780.65 925.4 L788.9 925.33 L802.02 925.39 L812.9 925.56" fill="none" stroke="#E9A820" stroke-width="2.2" stroke-linejoin="round"/>
<circle cx="67.4" cy="926.34" r="3.7" fill="#E9A820"/>
<circle cx="74.15" cy="926.15" r="3.7" fill="#E9A820"/>
<circle cx="80.15" cy="926.05" r="3.7" fill="#E9A820"/>
<circle cx="88.03" cy="926.09" r="3.7" fill="#E9A820"/>
<circle cx="98.53" cy="926.24" r="3.7" fill="#E9A820"/>
<circle cx="105.65" cy="926.44" r="3.7" fill="#E9A820"/>
<circle cx="113.9" cy="926.59" r="3.7" fill="#E9A820"/>
<circle cx="127.4" cy="926.62" r="3.7" fill="#E9A820"/>
<circle cx="137.9" cy="926.52" r="3.7" fill="#E9A820"/>
<circle cx="145.03" cy="926.33" r="3.7" fill="#E9A820"/>
<circle cx="152.53" cy="926.15" r="3.7" fill="#E9A820"/>
<circle cx="165.65" cy="926.05" r="3.7" fill="#E9A820"/>
<circle cx="173.9" cy="926.09" r="3.7" fill="#E9A820"/>
<circle cx="183.65" cy="926.25" r="3.7" fill="#E9A820"/>
<circle cx="192.65" cy="926.44" r="3.7" fill="#E9A820"/>
<circle cx="200.15" cy="926.59" r="3.7" fill="#E9A820"/>
<circle cx="207.65" cy="926.62" r="3.7" fill="#E9A820"/>
<circle cx="215.15" cy="926.52" r="3.7" fill="#E9A820"/>
<circle cx="222.65" cy="926.33" r="3.7" fill="#E9A820"/>
<circle cx="229.4" cy="926.14" r="3.7" fill="#E9A820"/>
<circle cx="236.9" cy="926.05" r="3.7" fill="#E9A820"/>
<circle cx="244.4" cy="926.09" r="3.7" fill="#E9A820"/>
<circle cx="251.53" cy="926.25" r="3.7" fill="#E9A820"/>
<circle cx="259.4" cy="926.45" r="3.7" fill="#E9A820"/>
<circle cx="268.02" cy="926.59" r="3.7" fill="#E9A820"/>
<circle cx="276.27" cy="926.62" r="3.7" fill="#E9A820"/>
<circle cx="281.52" cy="926.51" r="3.7" fill="#E9A820"/>
<circle cx="292.77" cy="926.32" r="3.7" fill="#E9A820"/>
<circle cx="304.02" cy="926.14" r="3.7" fill="#E9A820"/>
<circle cx="313.4" cy="926.05" r="3.7" fill="#E9A820"/>
<circle cx="323.15" cy="926.1" r="3.7" fill="#E9A820"/>
<circle cx="332.15" cy="926.25" r="3.7" fill="#E9A820"/>
<circle cx="341.9" cy="926.45" r="3.7" fill="#E9A820"/>
<circle cx="351.27" cy="926.6" r="3.7" fill="#E9A820"/>
<circle cx="359.52" cy="926.62" r="3.7" fill="#E9A820"/>
<circle cx="369.65" cy="926.51" r="3.7" fill="#E9A820"/>
<circle cx="377.9" cy="926.32" r="3.7" fill="#E9A820"/>
<circle cx="385.77" cy="926.14" r="3.7" fill="#E9A820"/>
<circle cx="394.4" cy="926.05" r="3.7" fill="#E9A820"/>
<circle cx="402.27" cy="926.1" r="3.7" fill="#E9A820"/>
<circle cx="410.15" cy="926.26" r="3.7" fill="#E9A820"/>
<circle cx="417.65" cy="926.46" r="3.7" fill="#E9A820"/>
<circle cx="424.77" cy="926.6" r="3.7" fill="#E9A820"/>
<circle cx="432.27" cy="926.62" r="3.7" fill="#E9A820"/>
<circle cx="438.27" cy="926.5" r="3.7" fill="#E9A820"/>
<circle cx="446.15" cy="925.59" r="3.7" fill="#E9A820"/>
<circle cx="455.15" cy="925.41" r="3.7" fill="#E9A820"/>
<circle cx="465.27" cy="925.33" r="3.7" fill="#E9A820"/>
<circle cx="473.9" cy="925.38" r="3.7" fill="#E9A820"/>
<circle cx="482.9" cy="925.54" r="3.7" fill="#E9A820"/>
<circle cx="490.4" cy="925.74" r="3.7" fill="#E9A820"/>
<circle cx="501.65" cy="925.88" r="3.7" fill="#E9A820"/>
<circle cx="510.65" cy="925.89" r="3.7" fill="#E9A820"/>
<circle cx="516.27" cy="925.78" r="3.7" fill="#E9A820"/>
<circle cx="526.77" cy="925.59" r="3.7" fill="#E9A820"/>
<circle cx="535.77" cy="925.41" r="3.7" fill="#E9A820"/>
<circle cx="543.27" cy="925.33" r="3.7" fill="#E9A820"/>
<circle cx="552.27" cy="925.38" r="3.7" fill="#E9A820"/>
<circle cx="562.02" cy="925.55" r="3.7" fill="#E9A820"/>
<circle cx="571.02" cy="925.74" r="3.7" fill="#E9A820"/>
<circle cx="580.02" cy="925.88" r="3.7" fill="#E9A820"/>
<circle cx="594.27" cy="925.89" r="3.7" fill="#E9A820"/>
<circle cx="601.4" cy="925.78" r="3.7" fill="#E9A820"/>
<circle cx="608.9" cy="925.58" r="3.7" fill="#E9A820"/>
<circle cx="617.15" cy="925.41" r="3.7" fill="#E9A820"/>
<circle cx="625.77" cy="925.33" r="3.7" fill="#E9A820"/>
<circle cx="648.65" cy="925.39" r="3.7" fill="#E9A820"/>
<circle cx="663.65" cy="925.55" r="3.7" fill="#E9A820"/>
<circle cx="681.65" cy="925.75" r="3.7" fill="#E9A820"/>
<circle cx="694.4" cy="925.88" r="3.7" fill="#E9A820"/>
<circle cx="711.65" cy="925.89" r="3.7" fill="#E9A820"/>
<circle cx="725.15" cy="925.77" r="3.7" fill="#E9A820"/>
<circle cx="740.9" cy="925.58" r="3.7" fill="#E9A820"/>
<circle cx="780.65" cy="925.4" r="3.7" fill="#E9A820"/>
<circle cx="788.9" cy="925.33" r="3.7" fill="#E9A820"/>
<circle cx="802.02" cy="925.39" r="3.7" fill="#E9A820"/>
<circle cx="812.9" cy="925.56" r="3.7" fill="#E9A820"/>
<path d="M67.4 922.02 C 69.65 912.73, 72.03 899.41, 74.15 894.16 L80.15 890.56 L88.03 891.28 L98.53 889.84 L105.65 888.64 L113.9 889.36 L127.4 889.84 L137.9 892.24 L145.03 892.48 L152.53 892.96 L165.65 893.2 L173.9 892.48 L183.65 893.68 L192.65 892.24 L200.15 892.96 L207.65 893.2 L215.15 893.2 L222.65 893.2 L229.4 893.44 L236.9 893.2 L244.4 893.44 L251.53 893.44 L259.4 893.68 L268.02 892.96 L276.27 892.48 L281.52 894.16 L292.77 895.6 L304.02 894.64 L313.4 892.96 L323.15 896.32 L332.15 890.32 L341.9 892.24 L351.27 892.24 L359.52 893.44 L369.65 889.6 L377.9 888.64 L385.77 887.92 L394.4 892.24 L402.27 889.12 L410.15 891.28 L417.65 891.28 L424.77 891.04 L432.27 891.76 L438.27 890.32 L446.15 890.32 L455.15 889.6 L465.27 889.6 L473.9 891.28 L482.9 889.6 L490.4 888.64 L501.65 892.96 L510.65 892.96 L516.27 891.76 L526.77 891.04 L535.77 892.24 L543.27 891.04 L552.27 888.4 L562.02 889.12 L571.02 889.6 L580.02 890.08 L594.27 889.6 L601.4 890.56 L608.9 889.12 L617.15 890.56 L625.77 891.76 L648.65 890.56 L663.65 892.48 L681.65 891.76 L694.4 890.08 L711.65 891.28 L725.15 893.68 L740.9 891.28 L780.65 890.56 L788.9 892.24 L802.02 891.76 L812.9 892.24" fill="none" stroke="#1F6ADC" stroke-width="2.2" stroke-linejoin="round"/>
<polygon points="67.4,917.42 63.1,925.02 71.7,925.02" fill="#1F6ADC"/>
<polygon points="74.15,889.56 69.85,897.16 78.45,897.16" fill="#1F6ADC"/>
<polygon points="80.15,885.96 75.85,893.56 84.45,893.56" fill="#1F6ADC"/>
<polygon points="88.03,886.68 83.73,894.28 92.33,894.28" fill="#1F6ADC"/>
<polygon points="98.53,885.24 94.23,892.84 102.83,892.84" fill="#1F6ADC"/>
<polygon points="105.65,884.04 101.35,891.64 109.95,891.64" fill="#1F6ADC"/>
<polygon points="113.9,884.76 109.6,892.36 118.2,892.36" fill="#1F6ADC"/>
<polygon points="127.4,885.24 123.1,892.84 131.7,892.84" fill="#1F6ADC"/>
<polygon points="137.9,887.64 133.6,895.24 142.2,895.24" fill="#1F6ADC"/>
<polygon points="145.03,887.88 140.72,895.48 149.33,895.48" fill="#1F6ADC"/>
<polygon points="152.53,888.36 148.22,895.96 156.83,895.96" fill="#1F6ADC"/>
<polygon points="165.65,888.6 161.35,896.2 169.95,896.2" fill="#1F6ADC"/>
<polygon points="173.9,887.88 169.6,895.48 178.2,895.48" fill="#1F6ADC"/>
<polygon points="183.65,889.08 179.35,896.68 187.95,896.68" fill="#1F6ADC"/>
<polygon points="192.65,887.64 188.35,895.24 196.95,895.24" fill="#1F6ADC"/>
<polygon points="200.15,888.36 195.85,895.96 204.45,895.96" fill="#1F6ADC"/>
<polygon points="207.65,888.6 203.35,896.2 211.95,896.2" fill="#1F6ADC"/>
<polygon points="215.15,888.6 210.85,896.2 219.45,896.2" fill="#1F6ADC"/>
<polygon points="222.65,888.6 218.35,896.2 226.95,896.2" fill="#1F6ADC"/>
<polygon points="229.4,888.84 225.1,896.44 233.7,896.44" fill="#1F6ADC"/>
<polygon points="236.9,888.6 232.6,896.2 241.2,896.2" fill="#1F6ADC"/>
<polygon points="244.4,888.84 240.1,896.44 248.7,896.44" fill="#1F6ADC"/>
<polygon points="251.53,888.84 247.22,896.44 255.83,896.44" fill="#1F6ADC"/>
<polygon points="259.4,889.08 255.1,896.68 263.7,896.68" fill="#1F6ADC"/>
<polygon points="268.02,888.36 263.72,895.96 272.32,895.96" fill="#1F6ADC"/>
<polygon points="276.27,887.88 271.97,895.48 280.57,895.48" fill="#1F6ADC"/>
<polygon points="281.52,889.56 277.22,897.16 285.82,897.16" fill="#1F6ADC"/>
<polygon points="292.77,891 288.47,898.6 297.07,898.6" fill="#1F6ADC"/>
<polygon points="304.02,890.04 299.72,897.64 308.32,897.64" fill="#1F6ADC"/>
<polygon points="313.4,888.36 309.1,895.96 317.7,895.96" fill="#1F6ADC"/>
<polygon points="323.15,891.72 318.85,899.32 327.45,899.32" fill="#1F6ADC"/>
<polygon points="332.15,885.72 327.85,893.32 336.45,893.32" fill="#1F6ADC"/>
<polygon points="341.9,887.64 337.6,895.24 346.2,895.24" fill="#1F6ADC"/>
<polygon points="351.27,887.64 346.97,895.24 355.57,895.24" fill="#1F6ADC"/>
<polygon points="359.52,888.84 355.22,896.44 363.82,896.44" fill="#1F6ADC"/>
<polygon points="369.65,885 365.35,892.6 373.95,892.6" fill="#1F6ADC"/>
<polygon points="377.9,884.04 373.6,891.64 382.2,891.64" fill="#1F6ADC"/>
<polygon points="385.77,883.32 381.47,890.92 390.07,890.92" fill="#1F6ADC"/>
<polygon points="394.4,887.64 390.1,895.24 398.7,895.24" fill="#1F6ADC"/>
<polygon points="402.27,884.52 397.97,892.12 406.57,892.12" fill="#1F6ADC"/>
<polygon points="410.15,886.68 405.85,894.28 414.45,894.28" fill="#1F6ADC"/>
<polygon points="417.65,886.68 413.35,894.28 421.95,894.28" fill="#1F6ADC"/>
<polygon points="424.77,886.44 420.47,894.04 429.07,894.04" fill="#1F6ADC"/>
<polygon points="432.27,887.16 427.97,894.76 436.57,894.76" fill="#1F6ADC"/>
<polygon points="438.27,885.72 433.97,893.32 442.57,893.32" fill="#1F6ADC"/>
<polygon points="446.15,885.72 441.85,893.32 450.45,893.32" fill="#1F6ADC"/>
<polygon points="455.15,885 450.85,892.6 459.45,892.6" fill="#1F6ADC"/>
<polygon points="465.27,885 460.97,892.6 469.57,892.6" fill="#1F6ADC"/>
<polygon points="473.9,886.68 469.6,894.28 478.2,894.28" fill="#1F6ADC"/>
<polygon points="482.9,885 478.6,892.6 487.2,892.6" fill="#1F6ADC"/>
<polygon points="490.4,884.04 486.1,891.64 494.7,891.64" fill="#1F6ADC"/>
<polygon points="501.65,888.36 497.35,895.96 505.95,895.96" fill="#1F6ADC"/>
<polygon points="510.65,888.36 506.35,895.96 514.95,895.96" fill="#1F6ADC"/>
<polygon points="516.27,887.16 511.97,894.76 520.57,894.76" fill="#1F6ADC"/>
<polygon points="526.77,886.44 522.48,894.04 531.07,894.04" fill="#1F6ADC"/>
<polygon points="535.77,887.64 531.48,895.24 540.07,895.24" fill="#1F6ADC"/>
<polygon points="543.27,886.44 538.98,894.04 547.57,894.04" fill="#1F6ADC"/>
<polygon points="552.27,883.8 547.98,891.4 556.57,891.4" fill="#1F6ADC"/>
<polygon points="562.02,884.52 557.73,892.12 566.32,892.12" fill="#1F6ADC"/>
<polygon points="571.02,885 566.73,892.6 575.32,892.6" fill="#1F6ADC"/>
<polygon points="580.02,885.48 575.73,893.08 584.32,893.08" fill="#1F6ADC"/>
<polygon points="594.27,885 589.98,892.6 598.57,892.6" fill="#1F6ADC"/>
<polygon points="601.4,885.96 597.1,893.56 605.7,893.56" fill="#1F6ADC"/>
<polygon points="608.9,884.52 604.6,892.12 613.2,892.12" fill="#1F6ADC"/>
<polygon points="617.15,885.96 612.85,893.56 621.45,893.56" fill="#1F6ADC"/>
<polygon points="625.77,887.16 621.48,894.76 630.07,894.76" fill="#1F6ADC"/>
<polygon points="648.65,885.96 644.35,893.56 652.95,893.56" fill="#1F6ADC"/>
<polygon points="663.65,887.88 659.35,895.48 667.95,895.48" fill="#1F6ADC"/>
<polygon points="681.65,887.16 677.35,894.76 685.95,894.76" fill="#1F6ADC"/>
<polygon points="694.4,885.48 690.1,893.08 698.7,893.08" fill="#1F6ADC"/>
<polygon points="711.65,886.68 707.35,894.28 715.95,894.28" fill="#1F6ADC"/>
<polygon points="725.15,889.08 720.85,896.68 729.45,896.68" fill="#1F6ADC"/>
<polygon points="740.9,886.68 736.6,894.28 745.2,894.28" fill="#1F6ADC"/>
<polygon points="780.65,885.96 776.35,893.56 784.95,893.56" fill="#1F6ADC"/>
<polygon points="788.9,887.64 784.6,895.24 793.2,895.24" fill="#1F6ADC"/>
<polygon points="802.02,887.16 797.73,894.76 806.32,894.76" fill="#1F6ADC"/>
<polygon points="812.9,887.64 808.6,895.24 817.2,895.24" fill="#1F6ADC"/>
<path d="M67.4 928.26 L74.15 928.03 L80.15 928.13 L88.03 928.42 L98.53 928.47 L105.65 928.21 L113.9 928.02 L127.4 928.18 L137.9 928.46 L145.03 928.44 L152.53 928.16 L165.65 928.02 L173.9 928.23 L183.65 928.48 L192.65 928.4 L200.15 928.11 L207.65 928.03 L215.15 928.28 L222.65 928.49 L229.4 928.36 L236.9 928.07 L244.4 928.06 L251.53 928.33 L259.4 928.5 L268.02 928.31 L276.27 928.05 L281.52 928.09 L292.77 928.38 L304.02 928.49 L313.4 928.26 L323.15 928.03 L332.15 928.13 L341.9 928.42 L351.27 928.47 L359.52 928.21 L369.65 928.02 L377.9 928.18 L385.77 928.46 L394.4 928.44 L402.27 928.16 L410.15 928.02 L417.65 928.23 L424.77 928.48 L432.27 928.4 L438.27 928.11 L446.15 927.43 L455.15 927.68 L465.27 927.89 L473.9 927.76 L482.9 927.47 L490.4 927.46 L501.65 927.73 L510.65 927.9 L516.27 927.71 L526.77 927.45 L535.77 927.49 L543.27 927.78 L552.27 927.89 L562.02 927.66 L571.02 927.43 L580.02 927.53 L594.27 927.82 L601.4 927.87 L608.9 927.61 L617.15 927.42 L625.77 927.58 L648.65 927.86 L663.65 927.84 L681.65 927.56 L694.4 927.42 L711.65 927.63 L725.15 927.88 L740.9 927.8 L780.65 927.51 L788.9 927.43 L802.02 927.68 L812.9 927.89" fill="none" stroke="#EE7330" stroke-width="2.6" stroke-linejoin="round"/>
<polygon points="67.4,932.86 62.7,925.06 72.1,925.06" fill="#EE7330"/>
<polygon points="74.15,932.63 69.45,924.83 78.85,924.83" fill="#EE7330"/>
<polygon points="80.15,932.73 75.45,924.93 84.85,924.93" fill="#EE7330"/>
<polygon points="88.03,933.02 83.33,925.22 92.73,925.22" fill="#EE7330"/>
<polygon points="98.53,933.07 93.83,925.27 103.23,925.27" fill="#EE7330"/>
<polygon points="105.65,932.81 100.95,925.01 110.35,925.01" fill="#EE7330"/>
<polygon points="113.9,932.62 109.2,924.82 118.6,924.82" fill="#EE7330"/>
<polygon points="127.4,932.78 122.7,924.98 132.1,924.98" fill="#EE7330"/>
<polygon points="137.9,933.06 133.2,925.26 142.6,925.26" fill="#EE7330"/>
<polygon points="145.03,933.04 140.33,925.24 149.72,925.24" fill="#EE7330"/>
<polygon points="152.53,932.76 147.83,924.96 157.22,924.96" fill="#EE7330"/>
<polygon points="165.65,932.62 160.95,924.82 170.35,924.82" fill="#EE7330"/>
<polygon points="173.9,932.83 169.2,925.03 178.6,925.03" fill="#EE7330"/>
<polygon points="183.65,933.08 178.95,925.28 188.35,925.28" fill="#EE7330"/>
<polygon points="192.65,933 187.95,925.2 197.35,925.2" fill="#EE7330"/>
<polygon points="200.15,932.71 195.45,924.91 204.85,924.91" fill="#EE7330"/>
<polygon points="207.65,932.63 202.95,924.83 212.35,924.83" fill="#EE7330"/>
<polygon points="215.15,932.88 210.45,925.08 219.85,925.08" fill="#EE7330"/>
<polygon points="222.65,933.09 217.95,925.29 227.35,925.29" fill="#EE7330"/>
<polygon points="229.4,932.96 224.7,925.16 234.1,925.16" fill="#EE7330"/>
<polygon points="236.9,932.67 232.2,924.87 241.6,924.87" fill="#EE7330"/>
<polygon points="244.4,932.66 239.7,924.86 249.1,924.86" fill="#EE7330"/>
<polygon points="251.53,932.93 246.83,925.13 256.23,925.13" fill="#EE7330"/>
<polygon points="259.4,933.1 254.7,925.3 264.1,925.3" fill="#EE7330"/>
<polygon points="268.02,932.91 263.32,925.11 272.72,925.11" fill="#EE7330"/>
<polygon points="276.27,932.65 271.57,924.85 280.97,924.85" fill="#EE7330"/>
<polygon points="281.52,932.69 276.82,924.89 286.22,924.89" fill="#EE7330"/>
<polygon points="292.77,932.98 288.07,925.18 297.47,925.18" fill="#EE7330"/>
<polygon points="304.02,933.09 299.32,925.29 308.72,925.29" fill="#EE7330"/>
<polygon points="313.4,932.86 308.7,925.06 318.1,925.06" fill="#EE7330"/>
<polygon points="323.15,932.63 318.45,924.83 327.85,924.83" fill="#EE7330"/>
<polygon points="332.15,932.73 327.45,924.93 336.85,924.93" fill="#EE7330"/>
<polygon points="341.9,933.02 337.2,925.22 346.6,925.22" fill="#EE7330"/>
<polygon points="351.27,933.07 346.57,925.27 355.97,925.27" fill="#EE7330"/>
<polygon points="359.52,932.81 354.82,925.01 364.22,925.01" fill="#EE7330"/>
<polygon points="369.65,932.62 364.95,924.82 374.35,924.82" fill="#EE7330"/>
<polygon points="377.9,932.78 373.2,924.98 382.6,924.98" fill="#EE7330"/>
<polygon points="385.77,933.06 381.07,925.26 390.47,925.26" fill="#EE7330"/>
<polygon points="394.4,933.04 389.7,925.24 399.1,925.24" fill="#EE7330"/>
<polygon points="402.27,932.76 397.57,924.96 406.97,924.96" fill="#EE7330"/>
<polygon points="410.15,932.62 405.45,924.82 414.85,924.82" fill="#EE7330"/>
<polygon points="417.65,932.83 412.95,925.03 422.35,925.03" fill="#EE7330"/>
<polygon points="424.77,933.08 420.07,925.28 429.47,925.28" fill="#EE7330"/>
<polygon points="432.27,933 427.57,925.2 436.97,925.2" fill="#EE7330"/>
<polygon points="438.27,932.71 433.57,924.91 442.97,924.91" fill="#EE7330"/>
<polygon points="446.15,932.03 441.45,924.23 450.85,924.23" fill="#EE7330"/>
<polygon points="455.15,932.28 450.45,924.48 459.85,924.48" fill="#EE7330"/>
<polygon points="465.27,932.49 460.57,924.69 469.97,924.69" fill="#EE7330"/>
<polygon points="473.9,932.36 469.2,924.56 478.6,924.56" fill="#EE7330"/>
<polygon points="482.9,932.07 478.2,924.27 487.6,924.27" fill="#EE7330"/>
<polygon points="490.4,932.06 485.7,924.26 495.1,924.26" fill="#EE7330"/>
<polygon points="501.65,932.33 496.95,924.53 506.35,924.53" fill="#EE7330"/>
<polygon points="510.65,932.5 505.95,924.7 515.35,924.7" fill="#EE7330"/>
<polygon points="516.27,932.31 511.57,924.51 520.98,924.51" fill="#EE7330"/>
<polygon points="526.77,932.05 522.07,924.25 531.48,924.25" fill="#EE7330"/>
<polygon points="535.77,932.09 531.07,924.29 540.48,924.29" fill="#EE7330"/>
<polygon points="543.27,932.38 538.57,924.58 547.98,924.58" fill="#EE7330"/>
<polygon points="552.27,932.49 547.57,924.69 556.98,924.69" fill="#EE7330"/>
<polygon points="562.02,932.26 557.32,924.46 566.73,924.46" fill="#EE7330"/>
<polygon points="571.02,932.03 566.32,924.23 575.73,924.23" fill="#EE7330"/>
<polygon points="580.02,932.13 575.32,924.33 584.73,924.33" fill="#EE7330"/>
<polygon points="594.27,932.42 589.57,924.62 598.98,924.62" fill="#EE7330"/>
<polygon points="601.4,932.47 596.7,924.67 606.1,924.67" fill="#EE7330"/>
<polygon points="608.9,932.21 604.2,924.41 613.6,924.41" fill="#EE7330"/>
<polygon points="617.15,932.02 612.45,924.22 621.85,924.22" fill="#EE7330"/>
<polygon points="625.77,932.18 621.07,924.38 630.48,924.38" fill="#EE7330"/>
<polygon points="648.65,932.46 643.95,924.66 653.35,924.66" fill="#EE7330"/>
<polygon points="663.65,932.44 658.95,924.64 668.35,924.64" fill="#EE7330"/>
<polygon points="681.65,932.16 676.95,924.36 686.35,924.36" fill="#EE7330"/>
<polygon points="694.4,932.02 689.7,924.22 699.1,924.22" fill="#EE7330"/>
<polygon points="711.65,932.23 706.95,924.43 716.35,924.43" fill="#EE7330"/>
<polygon points="725.15,932.48 720.45,924.68 729.85,924.68" fill="#EE7330"/>
<polygon points="740.9,932.4 736.2,924.6 745.6,924.6" fill="#EE7330"/>
<polygon points="780.65,932.11 775.95,924.31 785.35,924.31" fill="#EE7330"/>
<polygon points="788.9,932.03 784.2,924.23 793.6,924.23" fill="#EE7330"/>
<polygon points="802.02,932.28 797.32,924.48 806.73,924.48" fill="#EE7330"/>
<polygon points="812.9,932.49 808.2,924.69 817.6,924.69" fill="#EE7330"/>
<path d="M67.4 717.21 C 69.65 727.69, 72.03 742.7, 74.15 748.66 L80.15 752.98 L88.03 751.06 L98.53 753.47 L105.65 754.19 L113.9 753.47 L127.4 752.26 L137.9 750.58 L145.03 749.62 L152.53 749.38 L165.65 749.38 L173.9 749.86 L183.65 747.94 L192.65 750.34 L200.15 749.38 L207.65 749.38 L215.15 749.38 L222.65 748.9 L229.4 749.14 L236.9 749.38 L244.4 747.94 L251.53 748.42 L259.4 747.94 L268.02 748.42 L276.27 749.14 L281.52 747.94 L292.77 746.02 L304.02 745.3 L313.4 749.14 L323.15 744.82 L332.15 752.26 L341.9 750.34 L351.27 751.06 L359.52 750.34 L369.65 752.5 L377.9 754.19 L385.77 755.39 L394.4 750.82 L402.27 752.98 L410.15 752.26 L417.65 752.98 L424.77 752.98 L432.27 752.26 L438.27 752.98 L446.15 752.98 L455.15 754.19 L465.27 754.19 L473.9 753.71 L482.9 754.19 L490.4 755.39 L501.65 750.34 L510.65 751.54 L516.27 752.26 L526.77 752.98 L535.77 752.26 L543.27 753.71 L552.27 755.87 L562.02 754.19 L571.02 753.71 L580.02 753.71 L594.27 755.39 L601.4 754.19 L608.9 755.39 L617.15 754.19 L625.77 752.26 L648.65 753.71 L663.65 752.02 L681.65 752.5 L694.4 754.19 L711.65 752.5 L725.15 750.34 L740.9 753.47 L780.65 753.71 L788.9 752.5 L802.02 752.98 L812.9 752.98" fill="none" stroke="#A772DC" stroke-width="2.2" stroke-linejoin="round"/>
<polygon points="67.4,712.61 72,717.21 67.4,721.81 62.8,717.21" fill="#A772DC"/>
<polygon points="74.15,744.06 78.75,748.66 74.15,753.26 69.55,748.66" fill="#A772DC"/>
<polygon points="80.15,748.38 84.75,752.98 80.15,757.58 75.55,752.98" fill="#A772DC"/>
<polygon points="88.03,746.46 92.62,751.06 88.03,755.66 83.43,751.06" fill="#A772DC"/>
<polygon points="98.53,748.87 103.12,753.47 98.53,758.07 93.93,753.47" fill="#A772DC"/>
<polygon points="105.65,749.59 110.25,754.19 105.65,758.79 101.05,754.19" fill="#A772DC"/>
<polygon points="113.9,748.87 118.5,753.47 113.9,758.07 109.3,753.47" fill="#A772DC"/>
<polygon points="127.4,747.66 132,752.26 127.4,756.86 122.8,752.26" fill="#A772DC"/>
<polygon points="137.9,745.98 142.5,750.58 137.9,755.18 133.3,750.58" fill="#A772DC"/>
<polygon points="145.03,745.02 149.62,749.62 145.03,754.22 140.43,749.62" fill="#A772DC"/>
<polygon points="152.53,744.78 157.12,749.38 152.53,753.98 147.93,749.38" fill="#A772DC"/>
<polygon points="165.65,744.78 170.25,749.38 165.65,753.98 161.05,749.38" fill="#A772DC"/>
<polygon points="173.9,745.26 178.5,749.86 173.9,754.46 169.3,749.86" fill="#A772DC"/>
<polygon points="183.65,743.34 188.25,747.94 183.65,752.54 179.05,747.94" fill="#A772DC"/>
<polygon points="192.65,745.74 197.25,750.34 192.65,754.94 188.05,750.34" fill="#A772DC"/>
<polygon points="200.15,744.78 204.75,749.38 200.15,753.98 195.55,749.38" fill="#A772DC"/>
<polygon points="207.65,744.78 212.25,749.38 207.65,753.98 203.05,749.38" fill="#A772DC"/>
<polygon points="215.15,744.78 219.75,749.38 215.15,753.98 210.55,749.38" fill="#A772DC"/>
<polygon points="222.65,744.3 227.25,748.9 222.65,753.5 218.05,748.9" fill="#A772DC"/>
<polygon points="229.4,744.54 234,749.14 229.4,753.74 224.8,749.14" fill="#A772DC"/>
<polygon points="236.9,744.78 241.5,749.38 236.9,753.98 232.3,749.38" fill="#A772DC"/>
<polygon points="244.4,743.34 249,747.94 244.4,752.54 239.8,747.94" fill="#A772DC"/>
<polygon points="251.53,743.82 256.12,748.42 251.53,753.02 246.93,748.42" fill="#A772DC"/>
<polygon points="259.4,743.34 264,747.94 259.4,752.54 254.8,747.94" fill="#A772DC"/>
<polygon points="268.02,743.82 272.62,748.42 268.02,753.02 263.42,748.42" fill="#A772DC"/>
<polygon points="276.27,744.54 280.88,749.14 276.27,753.74 271.67,749.14" fill="#A772DC"/>
<polygon points="281.52,743.34 286.12,747.94 281.52,752.54 276.92,747.94" fill="#A772DC"/>
<polygon points="292.77,741.42 297.38,746.02 292.77,750.62 288.17,746.02" fill="#A772DC"/>
<polygon points="304.02,740.7 308.62,745.3 304.02,749.9 299.42,745.3" fill="#A772DC"/>
<polygon points="313.4,744.54 318,749.14 313.4,753.74 308.8,749.14" fill="#A772DC"/>
<polygon points="323.15,740.22 327.75,744.82 323.15,749.42 318.55,744.82" fill="#A772DC"/>
<polygon points="332.15,747.66 336.75,752.26 332.15,756.86 327.55,752.26" fill="#A772DC"/>
<polygon points="341.9,745.74 346.5,750.34 341.9,754.94 337.3,750.34" fill="#A772DC"/>
<polygon points="351.27,746.46 355.88,751.06 351.27,755.66 346.67,751.06" fill="#A772DC"/>
<polygon points="359.52,745.74 364.12,750.34 359.52,754.94 354.92,750.34" fill="#A772DC"/>
<polygon points="369.65,747.9 374.25,752.5 369.65,757.1 365.05,752.5" fill="#A772DC"/>
<polygon points="377.9,749.59 382.5,754.19 377.9,758.79 373.3,754.19" fill="#A772DC"/>
<polygon points="385.77,750.79 390.38,755.39 385.77,759.99 381.17,755.39" fill="#A772DC"/>
<polygon points="394.4,746.22 399,750.82 394.4,755.42 389.8,750.82" fill="#A772DC"/>
<polygon points="402.27,748.38 406.88,752.98 402.27,757.58 397.67,752.98" fill="#A772DC"/>
<polygon points="410.15,747.66 414.75,752.26 410.15,756.86 405.55,752.26" fill="#A772DC"/>
<polygon points="417.65,748.38 422.25,752.98 417.65,757.58 413.05,752.98" fill="#A772DC"/>
<polygon points="424.77,748.38 429.38,752.98 424.77,757.58 420.17,752.98" fill="#A772DC"/>
<polygon points="432.27,747.66 436.88,752.26 432.27,756.86 427.67,752.26" fill="#A772DC"/>
<polygon points="438.27,748.38 442.88,752.98 438.27,757.58 433.67,752.98" fill="#A772DC"/>
<polygon points="446.15,748.38 450.75,752.98 446.15,757.58 441.55,752.98" fill="#A772DC"/>
<polygon points="455.15,749.59 459.75,754.19 455.15,758.79 450.55,754.19" fill="#A772DC"/>
<polygon points="465.27,749.59 469.88,754.19 465.27,758.79 460.67,754.19" fill="#A772DC"/>
<polygon points="473.9,749.11 478.5,753.71 473.9,758.31 469.3,753.71" fill="#A772DC"/>
<polygon points="482.9,749.59 487.5,754.19 482.9,758.79 478.3,754.19" fill="#A772DC"/>
<polygon points="490.4,750.79 495,755.39 490.4,759.99 485.8,755.39" fill="#A772DC"/>
<polygon points="501.65,745.74 506.25,750.34 501.65,754.94 497.05,750.34" fill="#A772DC"/>
<polygon points="510.65,746.94 515.25,751.54 510.65,756.14 506.05,751.54" fill="#A772DC"/>
<polygon points="516.27,747.66 520.88,752.26 516.27,756.86 511.67,752.26" fill="#A772DC"/>
<polygon points="526.77,748.38 531.38,752.98 526.77,757.58 522.17,752.98" fill="#A772DC"/>
<polygon points="535.77,747.66 540.38,752.26 535.77,756.86 531.17,752.26" fill="#A772DC"/>
<polygon points="543.27,749.11 547.88,753.71 543.27,758.31 538.67,753.71" fill="#A772DC"/>
<polygon points="552.27,751.27 556.88,755.87 552.27,760.47 547.67,755.87" fill="#A772DC"/>
<polygon points="562.02,749.59 566.62,754.19 562.02,758.79 557.42,754.19" fill="#A772DC"/>
<polygon points="571.02,749.11 575.62,753.71 571.02,758.31 566.42,753.71" fill="#A772DC"/>
<polygon points="580.02,749.11 584.62,753.71 580.02,758.31 575.42,753.71" fill="#A772DC"/>
<polygon points="594.27,750.79 598.88,755.39 594.27,759.99 589.67,755.39" fill="#A772DC"/>
<polygon points="601.4,749.59 606,754.19 601.4,758.79 596.8,754.19" fill="#A772DC"/>
<polygon points="608.9,750.79 613.5,755.39 608.9,759.99 604.3,755.39" fill="#A772DC"/>
<polygon points="617.15,749.59 621.75,754.19 617.15,758.79 612.55,754.19" fill="#A772DC"/>
<polygon points="625.77,747.66 630.38,752.26 625.77,756.86 621.17,752.26" fill="#A772DC"/>
<polygon points="648.65,749.11 653.25,753.71 648.65,758.31 644.05,753.71" fill="#A772DC"/>
<polygon points="663.65,747.42 668.25,752.02 663.65,756.62 659.05,752.02" fill="#A772DC"/>
<polygon points="681.65,747.9 686.25,752.5 681.65,757.1 677.05,752.5" fill="#A772DC"/>
<polygon points="694.4,749.59 699,754.19 694.4,758.79 689.8,754.19" fill="#A772DC"/>
<polygon points="711.65,747.9 716.25,752.5 711.65,757.1 707.05,752.5" fill="#A772DC"/>
<polygon points="725.15,745.74 729.75,750.34 725.15,754.94 720.55,750.34" fill="#A772DC"/>
<polygon points="740.9,748.87 745.5,753.47 740.9,758.07 736.3,753.47" fill="#A772DC"/>
<polygon points="780.65,749.11 785.25,753.71 780.65,758.31 776.05,753.71" fill="#A772DC"/>
<polygon points="788.9,747.9 793.5,752.5 788.9,757.1 784.3,752.5" fill="#A772DC"/>
<polygon points="802.02,748.38 806.62,752.98 802.02,757.58 797.42,752.98" fill="#A772DC"/>
<polygon points="812.9,748.38 817.5,752.98 812.9,757.58 808.3,752.98" fill="#A772DC"/>
<path d="M67.4 906.89 C 69.65 882.64, 72.03 846.66, 74.15 834.14 L80.15 831.74 L88.03 830.3 L98.53 829.58 L105.65 830.3 L113.9 831.74 L127.4 831.98 L137.9 830.06 L145.03 830.3 L152.53 831.26 L165.65 830.78 L173.9 832.7 L183.65 829.34 L192.65 832.46 L200.15 831.5 L207.65 832.22 L215.15 832.7 L222.65 831.5 L229.4 830.3 L236.9 832.7 L244.4 833.42 L251.53 832.7 L259.4 831.74 L268.02 832.94 L276.27 835.58 L281.52 833.66 L292.77 828.14 L304.02 828.62 L313.4 834.86 L323.15 828.62 L332.15 839.42 L341.9 838.7 L351.27 834.86 L359.52 832.94 L369.65 837.5 L377.9 838.22 L385.77 840.38 L394.4 834.86 L402.27 839.42 L410.15 837.5 L417.65 838.7 L424.77 839.18 L432.27 838.7 L438.27 837.5 L446.15 837.5 L455.15 838.7 L465.27 838.22 L473.9 838.22 L482.9 839.42 L490.4 842.54 L501.65 837.02 L510.65 838.7 L516.27 839.42 L526.77 838.7 L535.77 838.7 L543.27 838.22 L552.27 840.38 L562.02 839.9 L571.02 839.42 L580.02 840.62 L594.27 841.82 L601.4 839.9 L608.9 841.34 L617.15 839.9 L625.77 838.22 L648.65 841.82 L663.65 838.94 L681.65 840.62 L694.4 843.02 L711.65 841.34 L725.15 837.5 L740.9 841.82 L780.65 843.26 L788.9 842.06 L802.02 840.38 L812.9 842.06" fill="none" stroke="#EE1010" stroke-width="2.2" stroke-linejoin="round"/>
<circle cx="67.4" cy="906.89" r="3.8" fill="url(#rball)"/>
<circle cx="74.15" cy="834.14" r="3.8" fill="url(#rball)"/>
<circle cx="80.15" cy="831.74" r="3.8" fill="url(#rball)"/>
<circle cx="88.03" cy="830.3" r="3.8" fill="url(#rball)"/>
<circle cx="98.53" cy="829.58" r="3.8" fill="url(#rball)"/>
<circle cx="105.65" cy="830.3" r="3.8" fill="url(#rball)"/>
<circle cx="113.9" cy="831.74" r="3.8" fill="url(#rball)"/>
<circle cx="127.4" cy="831.98" r="3.8" fill="url(#rball)"/>
<circle cx="137.9" cy="830.06" r="3.8" fill="url(#rball)"/>
<circle cx="145.03" cy="830.3" r="3.8" fill="url(#rball)"/>
<circle cx="152.53" cy="831.26" r="3.8" fill="url(#rball)"/>
<circle cx="165.65" cy="830.78" r="3.8" fill="url(#rball)"/>
<circle cx="173.9" cy="832.7" r="3.8" fill="url(#rball)"/>
<circle cx="183.65" cy="829.34" r="3.8" fill="url(#rball)"/>
<circle cx="192.65" cy="832.46" r="3.8" fill="url(#rball)"/>
<circle cx="200.15" cy="831.5" r="3.8" fill="url(#rball)"/>
<circle cx="207.65" cy="832.22" r="3.8" fill="url(#rball)"/>
<circle cx="215.15" cy="832.7" r="3.8" fill="url(#rball)"/>
<circle cx="222.65" cy="831.5" r="3.8" fill="url(#rball)"/>
<circle cx="229.4" cy="830.3" r="3.8" fill="url(#rball)"/>
<circle cx="236.9" cy="832.7" r="3.8" fill="url(#rball)"/>
<circle cx="244.4" cy="833.42" r="3.8" fill="url(#rball)"/>
<circle cx="251.53" cy="832.7" r="3.8" fill="url(#rball)"/>
<circle cx="259.4" cy="831.74" r="3.8" fill="url(#rball)"/>
<circle cx="268.02" cy="832.94" r="3.8" fill="url(#rball)"/>
<circle cx="276.27" cy="835.58" r="3.8" fill="url(#rball)"/>
<circle cx="281.52" cy="833.66" r="3.8" fill="url(#rball)"/>
<circle cx="292.77" cy="828.14" r="3.8" fill="url(#rball)"/>
<circle cx="304.02" cy="828.62" r="3.8" fill="url(#rball)"/>
<circle cx="313.4" cy="834.86" r="3.8" fill="url(#rball)"/>
<circle cx="323.15" cy="828.62" r="3.8" fill="url(#rball)"/>
<circle cx="332.15" cy="839.42" r="3.8" fill="url(#rball)"/>
<circle cx="341.9" cy="838.7" r="3.8" fill="url(#rball)"/>
<circle cx="351.27" cy="834.86" r="3.8" fill="url(#rball)"/>
<circle cx="359.52" cy="832.94" r="3.8" fill="url(#rball)"/>
<circle cx="369.65" cy="837.5" r="3.8" fill="url(#rball)"/>
<circle cx="377.9" cy="838.22" r="3.8" fill="url(#rball)"/>
<circle cx="385.77" cy="840.38" r="3.8" fill="url(#rball)"/>
<circle cx="394.4" cy="834.86" r="3.8" fill="url(#rball)"/>
<circle cx="402.27" cy="839.42" r="3.8" fill="url(#rball)"/>
<circle cx="410.15" cy="837.5" r="3.8" fill="url(#rball)"/>
<circle cx="417.65" cy="838.7" r="3.8" fill="url(#rball)"/>
<circle cx="424.77" cy="839.18" r="3.8" fill="url(#rball)"/>
<circle cx="432.27" cy="838.7" r="3.8" fill="url(#rball)"/>
<circle cx="438.27" cy="837.5" r="3.8" fill="url(#rball)"/>
<circle cx="446.15" cy="837.5" r="3.8" fill="url(#rball)"/>
<circle cx="455.15" cy="838.7" r="3.8" fill="url(#rball)"/>
<circle cx="465.27" cy="838.22" r="3.8" fill="url(#rball)"/>
<circle cx="473.9" cy="838.22" r="3.8" fill="url(#rball)"/>
<circle cx="482.9" cy="839.42" r="3.8" fill="url(#rball)"/>
<circle cx="490.4" cy="842.54" r="3.8" fill="url(#rball)"/>
<circle cx="501.65" cy="837.02" r="3.8" fill="url(#rball)"/>
<circle cx="510.65" cy="838.7" r="3.8" fill="url(#rball)"/>
<circle cx="516.27" cy="839.42" r="3.8" fill="url(#rball)"/>
<circle cx="526.77" cy="838.7" r="3.8" fill="url(#rball)"/>
<circle cx="535.77" cy="838.7" r="3.8" fill="url(#rball)"/>
<circle cx="543.27" cy="838.22" r="3.8" fill="url(#rball)"/>
<circle cx="552.27" cy="840.38" r="3.8" fill="url(#rball)"/>
<circle cx="562.02" cy="839.9" r="3.8" fill="url(#rball)"/>
<circle cx="571.02" cy="839.42" r="3.8" fill="url(#rball)"/>
<circle cx="580.02" cy="840.62" r="3.8" fill="url(#rball)"/>
<circle cx="594.27" cy="841.82" r="3.8" fill="url(#rball)"/>
<circle cx="601.4" cy="839.9" r="3.8" fill="url(#rball)"/>
<circle cx="608.9" cy="841.34" r="3.8" fill="url(#rball)"/>
<circle cx="617.15" cy="839.9" r="3.8" fill="url(#rball)"/>
<circle cx="625.77" cy="838.22" r="3.8" fill="url(#rball)"/>
<circle cx="648.65" cy="841.82" r="3.8" fill="url(#rball)"/>
<circle cx="663.65" cy="838.94" r="3.8" fill="url(#rball)"/>
<circle cx="681.65" cy="840.62" r="3.8" fill="url(#rball)"/>
<circle cx="694.4" cy="843.02" r="3.8" fill="url(#rball)"/>
<circle cx="711.65" cy="841.34" r="3.8" fill="url(#rball)"/>
<circle cx="725.15" cy="837.5" r="3.8" fill="url(#rball)"/>
<circle cx="740.9" cy="841.82" r="3.8" fill="url(#rball)"/>
<circle cx="780.65" cy="843.26" r="3.8" fill="url(#rball)"/>
<circle cx="788.9" cy="842.06" r="3.8" fill="url(#rball)"/>
<circle cx="802.02" cy="840.38" r="3.8" fill="url(#rball)"/>
<circle cx="812.9" cy="842.06" r="3.8" fill="url(#rball)"/>
<line x1="61.2" y1="692.2" x2="61.2" y2="934.3" stroke="#000" stroke-width="2" />
<line x1="60.2" y1="933.3" x2="818.5" y2="933.3" stroke="#000" stroke-width="2" />
<line x1="60.2" y1="693.2" x2="818.5" y2="693.2" stroke="#000" stroke-width="1.8" />
<line x1="56.2" y1="933.3" x2="61.2" y2="933.3" stroke="#000" stroke-width="1.8" />
<text x="52.5" y="936.9" font-size="12.1" fill="#000" text-anchor="end" font-weight="bold" >0</text>
<line x1="58.7" y1="909.29" x2="61.2" y2="909.29" stroke="#000" stroke-width="1.5" />
<line x1="56.2" y1="885.28" x2="61.2" y2="885.28" stroke="#000" stroke-width="1.8" />
<text x="52.5" y="888.88" font-size="12.1" fill="#000" text-anchor="end" font-weight="bold" >20</text>
<line x1="58.7" y1="861.27" x2="61.2" y2="861.27" stroke="#000" stroke-width="1.5" />
<line x1="56.2" y1="837.26" x2="61.2" y2="837.26" stroke="#000" stroke-width="1.8" />
<text x="52.5" y="840.86" font-size="12.1" fill="#000" text-anchor="end" font-weight="bold" >40</text>
<line x1="58.7" y1="813.25" x2="61.2" y2="813.25" stroke="#000" stroke-width="1.5" />
<line x1="56.2" y1="789.24" x2="61.2" y2="789.24" stroke="#000" stroke-width="1.8" />
<text x="52.5" y="792.84" font-size="12.1" fill="#000" text-anchor="end" font-weight="bold" >60</text>
<line x1="58.7" y1="765.23" x2="61.2" y2="765.23" stroke="#000" stroke-width="1.5" />
<line x1="56.2" y1="741.22" x2="61.2" y2="741.22" stroke="#000" stroke-width="1.8" />
<text x="52.5" y="744.82" font-size="12.1" fill="#000" text-anchor="end" font-weight="bold" >80</text>
<line x1="58.7" y1="717.21" x2="61.2" y2="717.21" stroke="#000" stroke-width="1.5" />
<line x1="56.2" y1="693.2" x2="61.2" y2="693.2" stroke="#000" stroke-width="1.8" />
<text x="52.5" y="696.8" font-size="12.1" fill="#000" text-anchor="end" font-weight="bold" >100</text>
<line x1="64.4" y1="933.3" x2="64.4" y2="937.4" stroke="#000" stroke-width="1.8" />
<text x="64.4" y="951.4" font-size="12.1" fill="#000" text-anchor="middle" font-weight="bold" >0</text>
<line x1="251.9" y1="933.3" x2="251.9" y2="937.4" stroke="#000" stroke-width="1.8" />
<text x="251.9" y="951.4" font-size="12.1" fill="#000" text-anchor="middle" font-weight="bold" >50</text>
<line x1="439.4" y1="933.3" x2="439.4" y2="937.4" stroke="#000" stroke-width="1.8" />
<text x="439.4" y="951.4" font-size="12.1" fill="#000" text-anchor="middle" font-weight="bold" >100</text>
<line x1="626.9" y1="933.3" x2="626.9" y2="937.4" stroke="#000" stroke-width="1.8" />
<text x="626.9" y="951.4" font-size="12.1" fill="#000" text-anchor="middle" font-weight="bold" >150</text>
<line x1="814.4" y1="933.3" x2="814.4" y2="937.4" stroke="#000" stroke-width="1.8" />
<text x="814.4" y="951.4" font-size="12.1" fill="#000" text-anchor="middle" font-weight="bold" >200</text>
<line x1="158.15" y1="933.3" x2="158.15" y2="935.8" stroke="#000" stroke-width="1.5" />
<line x1="345.65" y1="933.3" x2="345.65" y2="935.8" stroke="#000" stroke-width="1.5" />
<line x1="533.15" y1="933.3" x2="533.15" y2="935.8" stroke="#000" stroke-width="1.5" />
<line x1="720.65" y1="933.3" x2="720.65" y2="935.8" stroke="#000" stroke-width="1.5" />
<text x="440" y="974" font-size="14.6" fill="#000" text-anchor="middle" font-weight="bold" >Time on Stream (h)</text>
<text x="26.3" y="813.7" font-size="14.7" fill="#000" text-anchor="middle" font-weight="bold" transform="rotate(-90 26.3 813.7)" >Product Selectivity (C%)</text>
<line x1="818.5" y1="692.2" x2="818.5" y2="934.3" stroke="#DE1620" stroke-width="2.1" />
<line x1="818.5" y1="933.3" x2="823" y2="933.3" stroke="#DE1620" stroke-width="1.8" />
<text x="826.8" y="937.3" font-size="12.2" fill="#DE1620" text-anchor="start" font-weight="bold" >0</text>
<line x1="818.5" y1="909.29" x2="821" y2="909.29" stroke="#DE1620" stroke-width="1.5" />
<line x1="818.5" y1="885.28" x2="823" y2="885.28" stroke="#DE1620" stroke-width="1.8" />
<text x="826.8" y="889.28" font-size="12.2" fill="#DE1620" text-anchor="start" font-weight="bold" >10</text>
<line x1="818.5" y1="861.27" x2="821" y2="861.27" stroke="#DE1620" stroke-width="1.5" />
<line x1="818.5" y1="837.26" x2="823" y2="837.26" stroke="#DE1620" stroke-width="1.8" />
<text x="826.8" y="841.26" font-size="12.2" fill="#DE1620" text-anchor="start" font-weight="bold" >20</text>
<line x1="818.5" y1="813.25" x2="821" y2="813.25" stroke="#DE1620" stroke-width="1.5" />
<line x1="818.5" y1="789.24" x2="823" y2="789.24" stroke="#DE1620" stroke-width="1.8" />
<text x="826.8" y="793.24" font-size="12.2" fill="#DE1620" text-anchor="start" font-weight="bold" >30</text>
<line x1="818.5" y1="765.23" x2="821" y2="765.23" stroke="#DE1620" stroke-width="1.5" />
<line x1="818.5" y1="741.22" x2="823" y2="741.22" stroke="#DE1620" stroke-width="1.8" />
<text x="826.8" y="745.22" font-size="12.2" fill="#DE1620" text-anchor="start" font-weight="bold" >40</text>
<line x1="818.5" y1="717.21" x2="821" y2="717.21" stroke="#DE1620" stroke-width="1.5" />
<line x1="818.5" y1="693.2" x2="823" y2="693.2" stroke="#DE1620" stroke-width="1.8" />
<text x="826.8" y="697.2" font-size="12.2" fill="#DE1620" text-anchor="start" font-weight="bold" >50</text>
<text x="857" y="813.5" font-size="14.9" fill="#DE1620" text-anchor="middle" font-weight="bold" transform="rotate(-90 857 813.5)" >CO Conversion (%)</text>
<path d="M799.2 833.8 C 799.5 825, 803 819.5, 808 817.8" fill="none" stroke="#EE1010" stroke-width="1.2"/>
<polygon points="811.5,817.3 805.5,815.5 806.5,820" fill="#EE1010"/>
<line x1="207.5" y1="711" x2="239" y2="711" stroke="#505050" stroke-width="2" />
<rect x="220.3" y="708" width="6" height="6" fill="#505050"/>
<text x="243.5" y="714.8" font-size="11.8" fill="#000" text-anchor="start" font-weight="bold" >CO<tspan font-size="11.8" dy="3">2</tspan><tspan font-size="1" dy="-3">​</tspan></text>
<line x1="284" y1="711" x2="316" y2="711" stroke="#E9A820" stroke-width="2" />
<circle cx="300" cy="711" r="3.7" fill="#E9A820"/>
<text x="321.5" y="714.8" font-size="11.8" fill="#000" text-anchor="start" font-weight="bold" >CH<tspan font-size="11.8" dy="3">4</tspan><tspan font-size="1" dy="-3">​</tspan></text>
<line x1="361.5" y1="711" x2="393.5" y2="711" stroke="#1F6ADC" stroke-width="2" />
<polygon points="377.5,706.4 373.2,714 381.8,714" fill="#1F6ADC"/>
<text x="398.5" y="714.8" font-size="11.8" fill="#000" text-anchor="start" font-weight="bold" >C<tspan font-size="11.8" dy="3">2-4</tspan><tspan font-size="1" dy="-3">​</tspan><tspan font-size="11.8" dy="-7">=</tspan><tspan font-size="1" dy="7">​</tspan></text>
<line x1="447" y1="711" x2="478.5" y2="711" stroke="#EE7330" stroke-width="2" />
<polygon points="462.8,715.6 458.5,708 467.1,708" fill="#EE7330"/>
<text x="484.5" y="714.8" font-size="11.8" fill="#000" text-anchor="start" font-weight="bold" >C<tspan font-size="11.8" dy="3">2-4</tspan><tspan font-size="1" dy="-3">​</tspan></text>
<line x1="527.5" y1="711" x2="559.5" y2="711" stroke="#A772DC" stroke-width="2" />
<polygon points="543.5,706.4 548.1,711 543.5,715.6 538.9,711" fill="#A772DC"/>
<text x="564.5" y="714.8" font-size="11.8" fill="#000" text-anchor="start" font-weight="bold" >C<tspan font-size="11.8" dy="3">5+</tspan><tspan font-size="1" dy="-3">​</tspan>+Oxy.</text>
</svg>
</body></html>
